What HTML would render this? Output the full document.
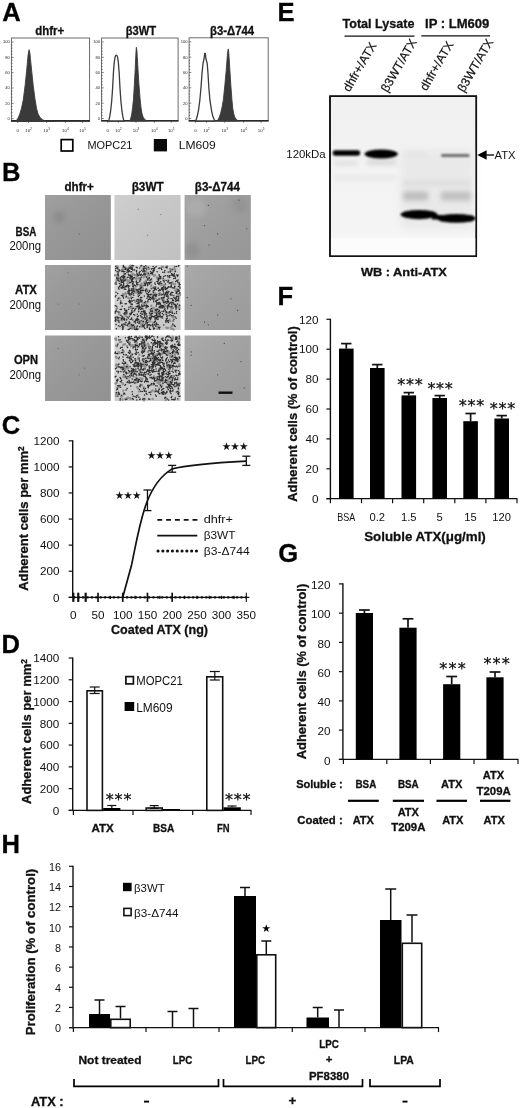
<!DOCTYPE html>
<html lang="en"><head><meta charset="utf-8"><title>Figure</title>
<style>
html,body{margin:0;padding:0;background:#fff}
svg{display:block;font-family:"Liberation Sans", "DejaVu Sans", sans-serif}
</style></head><body>
<svg width="520" height="1108" viewBox="0 0 520 1108">
<defs>
<linearGradient id="shade" x1="0" y1="0" x2="1" y2="1"><stop offset="0" stop-color="#fff" stop-opacity="0.07"/><stop offset="1" stop-color="#000" stop-opacity="0.05"/></linearGradient>
<linearGradient id="gelbg" x1="0" y1="0" x2="0" y2="1"><stop offset="0" stop-color="#f1f1f1"/><stop offset="0.85" stop-color="#f4f4f4"/><stop offset="1" stop-color="#fafafa"/></linearGradient>
<filter id="blur1" x="-10%" y="-50%" width="120%" height="200%"><feGaussianBlur stdDeviation="0.9"/></filter>
<filter id="blur2" x="-20%" y="-50%" width="140%" height="200%"><feGaussianBlur stdDeviation="2.5"/></filter>
<filter id="soft" x="-2%" y="-2%" width="104%" height="104%"><feGaussianBlur stdDeviation="0.35"/></filter>
<filter id="blur4" x="-20%" y="-20%" width="140%" height="140%"><feGaussianBlur stdDeviation="4"/></filter>
</defs>
<rect width="520" height="1108" fill="#fff"/>
<g id="panelA">
<text x="2.2" y="21.2" font-size="25.6" font-weight="bold" stroke="#111" stroke-width="0.3" fill="#000">A</text>
<rect x="11.40" y="38.00" width="78.20" height="83.20" fill="#fff" stroke="#5a5a5a" stroke-width="0.9"/>
<line x1="11.4" y1="118.7" x2="13.600000000000001" y2="118.7" stroke="#333" stroke-width="0.6"/>
<line x1="11.4" y1="115.63" x2="12.5" y2="115.63" stroke="#333" stroke-width="0.6"/>
<line x1="11.4" y1="112.56" x2="12.5" y2="112.56" stroke="#333" stroke-width="0.6"/>
<line x1="11.4" y1="109.5" x2="12.5" y2="109.5" stroke="#333" stroke-width="0.6"/>
<line x1="11.4" y1="106.43" x2="12.5" y2="106.43" stroke="#333" stroke-width="0.6"/>
<line x1="11.4" y1="103.36" x2="13.600000000000001" y2="103.36" stroke="#333" stroke-width="0.6"/>
<line x1="11.4" y1="100.29" x2="12.5" y2="100.29" stroke="#333" stroke-width="0.6"/>
<line x1="11.4" y1="97.22" x2="12.5" y2="97.22" stroke="#333" stroke-width="0.6"/>
<line x1="11.4" y1="94.16" x2="12.5" y2="94.16" stroke="#333" stroke-width="0.6"/>
<line x1="11.4" y1="91.09" x2="12.5" y2="91.09" stroke="#333" stroke-width="0.6"/>
<line x1="11.4" y1="88.02" x2="13.600000000000001" y2="88.02" stroke="#333" stroke-width="0.6"/>
<line x1="11.4" y1="84.95" x2="12.5" y2="84.95" stroke="#333" stroke-width="0.6"/>
<line x1="11.4" y1="81.88" x2="12.5" y2="81.88" stroke="#333" stroke-width="0.6"/>
<line x1="11.4" y1="78.82" x2="12.5" y2="78.82" stroke="#333" stroke-width="0.6"/>
<line x1="11.4" y1="75.75" x2="12.5" y2="75.75" stroke="#333" stroke-width="0.6"/>
<line x1="11.4" y1="72.68" x2="13.600000000000001" y2="72.68" stroke="#333" stroke-width="0.6"/>
<line x1="11.4" y1="69.61" x2="12.5" y2="69.61" stroke="#333" stroke-width="0.6"/>
<line x1="11.4" y1="66.54" x2="12.5" y2="66.54" stroke="#333" stroke-width="0.6"/>
<line x1="11.4" y1="63.48" x2="12.5" y2="63.48" stroke="#333" stroke-width="0.6"/>
<line x1="11.4" y1="60.41" x2="12.5" y2="60.41" stroke="#333" stroke-width="0.6"/>
<line x1="11.4" y1="57.34" x2="13.600000000000001" y2="57.34" stroke="#333" stroke-width="0.6"/>
<line x1="11.4" y1="54.27" x2="12.5" y2="54.27" stroke="#333" stroke-width="0.6"/>
<line x1="11.4" y1="51.2" x2="12.5" y2="51.2" stroke="#333" stroke-width="0.6"/>
<line x1="11.4" y1="48.14" x2="12.5" y2="48.14" stroke="#333" stroke-width="0.6"/>
<line x1="11.4" y1="45.07" x2="12.5" y2="45.07" stroke="#333" stroke-width="0.6"/>
<line x1="11.4" y1="42.0" x2="13.600000000000001" y2="42.0" stroke="#333" stroke-width="0.6"/>
<text x="9.8" y="120.1" font-size="4.1" text-anchor="end" fill="#2a2a2a">0</text>
<text x="9.8" y="104.8" font-size="4.1" text-anchor="end" fill="#2a2a2a">20</text>
<text x="9.8" y="89.4" font-size="4.1" text-anchor="end" fill="#2a2a2a">40</text>
<text x="9.8" y="74.1" font-size="4.1" text-anchor="end" fill="#2a2a2a">60</text>
<text x="9.8" y="58.7" font-size="4.1" text-anchor="end" fill="#2a2a2a">80</text>
<text x="9.8" y="43.4" font-size="4.1" text-anchor="end" fill="#2a2a2a">100</text>
<text x="17.7" y="132" font-size="4.4" text-anchor="middle" fill="#2a2a2a">0</text>
<line x1="17.7" y1="121.2" x2="17.7" y2="123.0" stroke="#333" stroke-width="0.6"/>
<text x="28.6" y="132" font-size="4.4" text-anchor="middle" fill="#2a2a2a">10<tspan dy="-1.9" font-size="3">2</tspan></text>
<line x1="28.6" y1="121.2" x2="28.6" y2="123.0" stroke="#333" stroke-width="0.6"/>
<text x="46.6" y="132" font-size="4.4" text-anchor="middle" fill="#2a2a2a">10<tspan dy="-1.9" font-size="3">3</tspan></text>
<line x1="46.6" y1="121.2" x2="46.6" y2="123.0" stroke="#333" stroke-width="0.6"/>
<text x="65.4" y="132" font-size="4.4" text-anchor="middle" fill="#2a2a2a">10<tspan dy="-1.9" font-size="3">4</tspan></text>
<line x1="65.4" y1="121.2" x2="65.4" y2="123.0" stroke="#333" stroke-width="0.6"/>
<text x="82.6" y="132" font-size="4.4" text-anchor="middle" fill="#2a2a2a">10<tspan dy="-1.9" font-size="3">5</tspan></text>
<line x1="82.6" y1="121.2" x2="82.6" y2="123.0" stroke="#333" stroke-width="0.6"/>
<line x1="11.0" y1="120.9" x2="90.0" y2="120.9" stroke="#2a2a2a" stroke-width="1.6"/>
<rect x="101.60" y="38.00" width="76.50" height="83.00" fill="#fff" stroke="#5a5a5a" stroke-width="0.9"/>
<line x1="101.6" y1="118.5" x2="103.8" y2="118.5" stroke="#333" stroke-width="0.6"/>
<line x1="101.6" y1="115.44" x2="102.69999999999999" y2="115.44" stroke="#333" stroke-width="0.6"/>
<line x1="101.6" y1="112.38" x2="102.69999999999999" y2="112.38" stroke="#333" stroke-width="0.6"/>
<line x1="101.6" y1="109.32" x2="102.69999999999999" y2="109.32" stroke="#333" stroke-width="0.6"/>
<line x1="101.6" y1="106.26" x2="102.69999999999999" y2="106.26" stroke="#333" stroke-width="0.6"/>
<line x1="101.6" y1="103.2" x2="103.8" y2="103.2" stroke="#333" stroke-width="0.6"/>
<line x1="101.6" y1="100.14" x2="102.69999999999999" y2="100.14" stroke="#333" stroke-width="0.6"/>
<line x1="101.6" y1="97.08" x2="102.69999999999999" y2="97.08" stroke="#333" stroke-width="0.6"/>
<line x1="101.6" y1="94.02" x2="102.69999999999999" y2="94.02" stroke="#333" stroke-width="0.6"/>
<line x1="101.6" y1="90.96" x2="102.69999999999999" y2="90.96" stroke="#333" stroke-width="0.6"/>
<line x1="101.6" y1="87.9" x2="103.8" y2="87.9" stroke="#333" stroke-width="0.6"/>
<line x1="101.6" y1="84.84" x2="102.69999999999999" y2="84.84" stroke="#333" stroke-width="0.6"/>
<line x1="101.6" y1="81.78" x2="102.69999999999999" y2="81.78" stroke="#333" stroke-width="0.6"/>
<line x1="101.6" y1="78.72" x2="102.69999999999999" y2="78.72" stroke="#333" stroke-width="0.6"/>
<line x1="101.6" y1="75.66" x2="102.69999999999999" y2="75.66" stroke="#333" stroke-width="0.6"/>
<line x1="101.6" y1="72.6" x2="103.8" y2="72.6" stroke="#333" stroke-width="0.6"/>
<line x1="101.6" y1="69.54" x2="102.69999999999999" y2="69.54" stroke="#333" stroke-width="0.6"/>
<line x1="101.6" y1="66.48" x2="102.69999999999999" y2="66.48" stroke="#333" stroke-width="0.6"/>
<line x1="101.6" y1="63.42" x2="102.69999999999999" y2="63.42" stroke="#333" stroke-width="0.6"/>
<line x1="101.6" y1="60.36" x2="102.69999999999999" y2="60.36" stroke="#333" stroke-width="0.6"/>
<line x1="101.6" y1="57.3" x2="103.8" y2="57.3" stroke="#333" stroke-width="0.6"/>
<line x1="101.6" y1="54.24" x2="102.69999999999999" y2="54.24" stroke="#333" stroke-width="0.6"/>
<line x1="101.6" y1="51.18" x2="102.69999999999999" y2="51.18" stroke="#333" stroke-width="0.6"/>
<line x1="101.6" y1="48.12" x2="102.69999999999999" y2="48.12" stroke="#333" stroke-width="0.6"/>
<line x1="101.6" y1="45.06" x2="102.69999999999999" y2="45.06" stroke="#333" stroke-width="0.6"/>
<line x1="101.6" y1="42.0" x2="103.8" y2="42.0" stroke="#333" stroke-width="0.6"/>
<text x="100.0" y="119.9" font-size="4.1" text-anchor="end" fill="#2a2a2a">0</text>
<text x="100.0" y="104.6" font-size="4.1" text-anchor="end" fill="#2a2a2a">20</text>
<text x="100.0" y="89.3" font-size="4.1" text-anchor="end" fill="#2a2a2a">40</text>
<text x="100.0" y="74.0" font-size="4.1" text-anchor="end" fill="#2a2a2a">60</text>
<text x="100.0" y="58.7" font-size="4.1" text-anchor="end" fill="#2a2a2a">80</text>
<text x="100.0" y="43.4" font-size="4.1" text-anchor="end" fill="#2a2a2a">100</text>
<text x="107.7" y="132" font-size="4.4" text-anchor="middle" fill="#2a2a2a">0</text>
<line x1="107.7" y1="121" x2="107.7" y2="122.8" stroke="#333" stroke-width="0.6"/>
<text x="118.4" y="132" font-size="4.4" text-anchor="middle" fill="#2a2a2a">10<tspan dy="-1.9" font-size="3">2</tspan></text>
<line x1="118.4" y1="121" x2="118.4" y2="122.8" stroke="#333" stroke-width="0.6"/>
<text x="136.0" y="132" font-size="4.4" text-anchor="middle" fill="#2a2a2a">10<tspan dy="-1.9" font-size="3">3</tspan></text>
<line x1="136.0" y1="121" x2="136.0" y2="122.8" stroke="#333" stroke-width="0.6"/>
<text x="154.4" y="132" font-size="4.4" text-anchor="middle" fill="#2a2a2a">10<tspan dy="-1.9" font-size="3">4</tspan></text>
<line x1="154.4" y1="121" x2="154.4" y2="122.8" stroke="#333" stroke-width="0.6"/>
<text x="171.2" y="132" font-size="4.4" text-anchor="middle" fill="#2a2a2a">10<tspan dy="-1.9" font-size="3">5</tspan></text>
<line x1="171.2" y1="121" x2="171.2" y2="122.8" stroke="#333" stroke-width="0.6"/>
<line x1="101.19999999999999" y1="120.7" x2="178.5" y2="120.7" stroke="#2a2a2a" stroke-width="1.6"/>
<rect x="189.10" y="37.80" width="79.10" height="83.20" fill="#fff" stroke="#5a5a5a" stroke-width="0.9"/>
<line x1="189.1" y1="118.5" x2="191.29999999999998" y2="118.5" stroke="#333" stroke-width="0.6"/>
<line x1="189.1" y1="115.43" x2="190.2" y2="115.43" stroke="#333" stroke-width="0.6"/>
<line x1="189.1" y1="112.36" x2="190.2" y2="112.36" stroke="#333" stroke-width="0.6"/>
<line x1="189.1" y1="109.3" x2="190.2" y2="109.3" stroke="#333" stroke-width="0.6"/>
<line x1="189.1" y1="106.23" x2="190.2" y2="106.23" stroke="#333" stroke-width="0.6"/>
<line x1="189.1" y1="103.16" x2="191.29999999999998" y2="103.16" stroke="#333" stroke-width="0.6"/>
<line x1="189.1" y1="100.09" x2="190.2" y2="100.09" stroke="#333" stroke-width="0.6"/>
<line x1="189.1" y1="97.02" x2="190.2" y2="97.02" stroke="#333" stroke-width="0.6"/>
<line x1="189.1" y1="93.96" x2="190.2" y2="93.96" stroke="#333" stroke-width="0.6"/>
<line x1="189.1" y1="90.89" x2="190.2" y2="90.89" stroke="#333" stroke-width="0.6"/>
<line x1="189.1" y1="87.82" x2="191.29999999999998" y2="87.82" stroke="#333" stroke-width="0.6"/>
<line x1="189.1" y1="84.75" x2="190.2" y2="84.75" stroke="#333" stroke-width="0.6"/>
<line x1="189.1" y1="81.68" x2="190.2" y2="81.68" stroke="#333" stroke-width="0.6"/>
<line x1="189.1" y1="78.62" x2="190.2" y2="78.62" stroke="#333" stroke-width="0.6"/>
<line x1="189.1" y1="75.55" x2="190.2" y2="75.55" stroke="#333" stroke-width="0.6"/>
<line x1="189.1" y1="72.48" x2="191.29999999999998" y2="72.48" stroke="#333" stroke-width="0.6"/>
<line x1="189.1" y1="69.41" x2="190.2" y2="69.41" stroke="#333" stroke-width="0.6"/>
<line x1="189.1" y1="66.34" x2="190.2" y2="66.34" stroke="#333" stroke-width="0.6"/>
<line x1="189.1" y1="63.28" x2="190.2" y2="63.28" stroke="#333" stroke-width="0.6"/>
<line x1="189.1" y1="60.21" x2="190.2" y2="60.21" stroke="#333" stroke-width="0.6"/>
<line x1="189.1" y1="57.14" x2="191.29999999999998" y2="57.14" stroke="#333" stroke-width="0.6"/>
<line x1="189.1" y1="54.07" x2="190.2" y2="54.07" stroke="#333" stroke-width="0.6"/>
<line x1="189.1" y1="51.0" x2="190.2" y2="51.0" stroke="#333" stroke-width="0.6"/>
<line x1="189.1" y1="47.94" x2="190.2" y2="47.94" stroke="#333" stroke-width="0.6"/>
<line x1="189.1" y1="44.87" x2="190.2" y2="44.87" stroke="#333" stroke-width="0.6"/>
<line x1="189.1" y1="41.8" x2="191.29999999999998" y2="41.8" stroke="#333" stroke-width="0.6"/>
<text x="187.5" y="119.9" font-size="4.1" text-anchor="end" fill="#2a2a2a">0</text>
<text x="187.5" y="104.6" font-size="4.1" text-anchor="end" fill="#2a2a2a">20</text>
<text x="187.5" y="89.2" font-size="4.1" text-anchor="end" fill="#2a2a2a">40</text>
<text x="187.5" y="73.9" font-size="4.1" text-anchor="end" fill="#2a2a2a">60</text>
<text x="187.5" y="58.5" font-size="4.1" text-anchor="end" fill="#2a2a2a">80</text>
<text x="187.5" y="43.2" font-size="4.1" text-anchor="end" fill="#2a2a2a">100</text>
<text x="195.4" y="132" font-size="4.4" text-anchor="middle" fill="#2a2a2a">0</text>
<line x1="195.4" y1="121" x2="195.4" y2="122.8" stroke="#333" stroke-width="0.6"/>
<text x="206.5" y="132" font-size="4.4" text-anchor="middle" fill="#2a2a2a">10<tspan dy="-1.9" font-size="3">2</tspan></text>
<line x1="206.5" y1="121" x2="206.5" y2="122.8" stroke="#333" stroke-width="0.6"/>
<text x="224.7" y="132" font-size="4.4" text-anchor="middle" fill="#2a2a2a">10<tspan dy="-1.9" font-size="3">3</tspan></text>
<line x1="224.7" y1="121" x2="224.7" y2="122.8" stroke="#333" stroke-width="0.6"/>
<text x="243.7" y="132" font-size="4.4" text-anchor="middle" fill="#2a2a2a">10<tspan dy="-1.9" font-size="3">4</tspan></text>
<line x1="243.7" y1="121" x2="243.7" y2="122.8" stroke="#333" stroke-width="0.6"/>
<text x="261.1" y="132" font-size="4.4" text-anchor="middle" fill="#2a2a2a">10<tspan dy="-1.9" font-size="3">5</tspan></text>
<line x1="261.1" y1="121" x2="261.1" y2="122.8" stroke="#333" stroke-width="0.6"/>
<line x1="188.7" y1="120.7" x2="268.59999999999997" y2="120.7" stroke="#2a2a2a" stroke-width="1.6"/>
<path d="M15.5 121.4 L15.5 121.2 L16.9 119.8 L18.3 117.6 L19.8 114.1 L21.5 108.3 L23.3 99.8 L25.1 85.5 L26.6 71.2 L27.8 58.3 L28.2 54.0 L29.1 49.7 L29.1 49.7 L30.0 54.0 L30.4 58.3 L31.7 71.2 L33.2 85.5 L35.1 99.8 L36.5 108.3 L38.1 114.1 L40.1 117.6 L42.6 119.8 L46.1 121.2 L56.1 121.4 Z" fill="#3a3a3a" stroke="#3a3a3a" stroke-width="0.9" stroke-linejoin="round"/>
<path d="M108.4 121.0 L109.0 119.7 L109.8 116.4 L110.6 111.2 L111.7 101.3 L112.6 88.2 L113.5 71.8 L114.3 62.0 L115.0 57.4 L115.7 55.4 L116.9 55.4 L117.6 57.4 L118.3 62.0 L119.1 71.8 L120.0 88.2 L120.9 101.3 L122.0 111.2 L122.8 116.4 L123.6 119.7 L124.2 121.0 Z" fill="#fff" stroke="#3a3a3a" stroke-width="1.3" stroke-linejoin="round"/>
<path d="M129.6 121.0 L130.3 119.5 L131.0 117.3 L131.8 113.6 L132.6 107.7 L133.5 98.9 L134.4 84.2 L135.2 69.4 L135.8 56.1 L136.0 51.7 L136.4 47.3 L136.4 47.3 L137.0 51.7 L137.2 56.1 L138.0 69.4 L138.9 84.2 L140.1 98.9 L141.0 107.7 L142.0 113.6 L143.2 117.3 L144.8 119.5 L146.9 121.0 Z" fill="#3a3a3a" stroke="#3a3a3a" stroke-width="0.9" stroke-linejoin="round"/>
<path d="M195.5 121.0 L196.2 119.6 L197.2 116.3 L198.4 110.8 L199.8 100.7 L201.0 87.2 L202.0 73.6 L203.0 63.5 L204.1 58.7 L204.7 53.3 L205.3 53.3 L205.9 58.7 L207.2 63.5 L208.0 73.6 L208.8 87.2 L210.0 100.7 L211.6 110.8 L212.8 116.3 L214.2 119.6 L215.2 121.0 Z" fill="#fff" stroke="#3a3a3a" stroke-width="1.3" stroke-linejoin="round"/>
<path d="M216.9 121.0 L218.1 119.6 L219.2 117.4 L220.5 113.8 L221.9 108.0 L223.4 99.4 L224.9 84.9 L226.2 70.5 L227.2 57.6 L227.5 53.2 L228.3 48.9 L228.3 48.9 L228.8 53.2 L229.1 57.6 L229.9 70.5 L230.8 84.9 L231.9 99.4 L232.7 108.0 L233.7 113.8 L234.9 117.4 L236.4 119.6 L238.5 121.0 Z" fill="#3a3a3a" stroke="#3a3a3a" stroke-width="0.9" stroke-linejoin="round"/>
<text x="35.2" y="34.5" font-size="12.6" font-weight="bold" stroke="#111" stroke-width="0.3" textLength="29" lengthAdjust="spacingAndGlyphs" fill="#111">dhfr+</text>
<text x="125.8" y="34.5" font-size="12.6" font-weight="bold" stroke="#111" stroke-width="0.3" textLength="30.4" lengthAdjust="spacingAndGlyphs" fill="#111">β3WT</text>
<text x="210" y="34.5" font-size="12.6" font-weight="bold" stroke="#111" stroke-width="0.3" textLength="44.2" lengthAdjust="spacingAndGlyphs" fill="#111">β3-Δ744</text>
<rect x="61.20" y="139.60" width="11.60" height="11.40" fill="#fff" stroke="#000" stroke-width="1.7"/>
<text x="87.4" y="149" font-size="11.6" textLength="45" lengthAdjust="spacingAndGlyphs" fill="#111">MOPC21</text>
<rect x="153.80" y="139.00" width="13.20" height="12.40" fill="#0a0a0a"/>
<text x="178.8" y="149" font-size="11.6" textLength="37" lengthAdjust="spacingAndGlyphs" fill="#111">LM609</text>
</g>
<g id="panelB">
<text x="1.9" y="180.8" font-size="25.6" font-weight="bold" stroke="#111" stroke-width="0.3" fill="#000">B</text>
<text x="64.5" y="191" font-size="12.4" font-weight="bold" stroke="#111" stroke-width="0.3" textLength="29.3" lengthAdjust="spacingAndGlyphs" fill="#111">dhfr+</text>
<text x="131.7" y="191" font-size="12.4" font-weight="bold" stroke="#111" stroke-width="0.3" textLength="32" lengthAdjust="spacingAndGlyphs" fill="#111">β3WT</text>
<text x="194.8" y="191" font-size="12.4" font-weight="bold" stroke="#111" stroke-width="0.3" textLength="45.2" lengthAdjust="spacingAndGlyphs" fill="#111">β3-Δ744</text>
<text x="26" y="235.5" font-size="12.6" font-weight="bold" stroke="#111" stroke-width="0.3" text-anchor="middle" textLength="20.8" lengthAdjust="spacingAndGlyphs" fill="#111">BSA</text>
<text x="25.3" y="249.9" font-size="12.4" text-anchor="middle" textLength="31.7" lengthAdjust="spacingAndGlyphs" fill="#111">200ng</text>
<text x="26" y="294.3" font-size="12.6" font-weight="bold" stroke="#111" stroke-width="0.3" text-anchor="middle" textLength="22" lengthAdjust="spacingAndGlyphs" fill="#111">ATX</text>
<text x="25.3" y="308.7" font-size="12.4" text-anchor="middle" textLength="31.7" lengthAdjust="spacingAndGlyphs" fill="#111">200ng</text>
<text x="26" y="364.3" font-size="12.6" font-weight="bold" stroke="#111" stroke-width="0.3" text-anchor="middle" textLength="24.2" lengthAdjust="spacingAndGlyphs" fill="#111">OPN</text>
<text x="25.3" y="378.7" font-size="12.4" text-anchor="middle" textLength="31.7" lengthAdjust="spacingAndGlyphs" fill="#111">200ng</text>
<rect x="45.00" y="195.00" width="65.80" height="65.00" fill="#989898"/>
<rect x="45.00" y="195.00" width="65.80" height="65.00" fill="url(#shade)"/>
<rect x="114.50" y="195.00" width="66.10" height="65.00" fill="#cbcbcb"/>
<rect x="114.50" y="195.00" width="66.10" height="65.00" fill="url(#shade)"/>
<rect x="184.60" y="195.00" width="66.20" height="65.00" fill="#9f9f9f"/>
<rect x="184.60" y="195.00" width="66.20" height="65.00" fill="url(#shade)"/>
<rect x="45.00" y="265.00" width="65.80" height="65.00" fill="#999999"/>
<rect x="45.00" y="265.00" width="65.80" height="65.00" fill="url(#shade)"/>
<rect x="114.50" y="265.00" width="66.10" height="65.00" fill="#d2d2d2"/>
<rect x="114.50" y="265.00" width="66.10" height="65.00" fill="url(#shade)"/>
<rect x="184.60" y="265.00" width="66.20" height="65.00" fill="#a3a3a3"/>
<rect x="184.60" y="265.00" width="66.20" height="65.00" fill="url(#shade)"/>
<rect x="45.00" y="335.50" width="65.80" height="65.50" fill="#999999"/>
<rect x="45.00" y="335.50" width="65.80" height="65.50" fill="url(#shade)"/>
<rect x="114.50" y="335.50" width="66.10" height="65.50" fill="#d2d2d2"/>
<rect x="114.50" y="335.50" width="66.10" height="65.50" fill="url(#shade)"/>
<rect x="184.60" y="335.50" width="66.20" height="65.50" fill="#a4a4a4"/>
<rect x="184.60" y="335.50" width="66.20" height="65.50" fill="url(#shade)"/>
<clipPath id="cpB"><rect x="45" y="195" width="65.8" height="65"/><rect x="184.6" y="195" width="66.2" height="65"/></clipPath>
<g clip-path="url(#cpB)"><g filter="url(#blur2)" opacity="0.5">
<ellipse cx="59" cy="217" rx="6" ry="6" fill="#808080"/>
<ellipse cx="196" cy="208" rx="10" ry="10" fill="#b4b4b4"/>
<ellipse cx="192" cy="250" rx="7" ry="8" fill="#858585"/>
<ellipse cx="240" cy="205" rx="8" ry="8" fill="#8c8c8c"/>
</g></g>
<path d="M79.2 234.0h0" stroke="#666" stroke-width="1.3" stroke-linecap="round" fill="none"/>
<path d="M147.6 235.3h0M160.8 214.5h0M138.3 209.3h0" stroke="#888" stroke-width="1.4" stroke-linecap="round" fill="none"/>
<path d="M208.4 205.4h0M238.9 200.2h0M246.8 228.8h0M217.7 234.0h0M209.1 245.1h0M204.5 225.6h0" stroke="#4a4a4a" stroke-width="1.3" stroke-linecap="round" fill="none"/>
<path d="M79.2 304.0h0M68.0 272.8h0M58.2 304.0h0" stroke="#6a6a6a" stroke-width="1.2" stroke-linecap="round" fill="none"/>
<path d="M187.2 297.5h0M191.2 305.3h0M217.7 315.1h0M230.9 298.8h0M237.6 310.5h0M204.5 322.2h0M208.4 324.8h0M187.2 266.3h0" stroke="#4a4a4a" stroke-width="1.3" stroke-linecap="round" fill="none"/>
<path d="M79.2 374.8h0M84.5 368.2h0M58.2 348.6h0" stroke="#6a6a6a" stroke-width="1.2" stroke-linecap="round" fill="none"/>
<path d="M191.2 351.9h0M191.2 355.1h0M217.7 374.8h0M224.3 343.4h0M240.9 361.7h0M244.2 387.9h0" stroke="#4a4a4a" stroke-width="1.3" stroke-linecap="round" fill="none"/>
<g filter="url(#soft)">
<path d="M136.1 275.2h0M134.9 274.9h0M118.9 298.0h0M119.8 298.4h0M142.7 318.4h0M141.4 317.1h0M118.1 320.4h0M119.0 321.2h0M168.1 277.1h0M139.3 300.5h0M139.7 302.0h0M142.9 285.6h0M142.3 287.2h0M149.2 321.4h0M150.3 321.3h0M142.2 313.9h0M143.7 314.3h0M164.7 302.2h0M164.2 300.8h0M152.7 294.7h0M145.9 308.0h0M133.6 290.2h0M132.5 290.5h0M122.7 269.4h0M122.7 270.7h0M171.7 270.7h0M172.9 269.6h0M171.2 283.4h0M172.5 282.2h0M124.9 276.8h0M123.4 277.0h0M132.2 265.9h0M130.5 265.6h0M159.9 298.5h0M171.9 316.5h0M173.1 317.4h0M119.1 269.9h0M118.6 270.8h0M115.1 275.3h0M116.8 275.5h0M155.0 275.1h0M154.2 275.9h0M146.5 271.1h0M146.3 272.7h0M149.4 275.0h0M147.6 274.6h0M171.1 310.0h0M171.9 311.4h0M149.7 315.3h0M150.3 313.6h0M163.1 280.1h0M164.1 280.3h0M133.2 282.1h0M177.1 288.9h0M177.5 290.0h0M146.2 307.3h0M145.3 305.8h0M165.9 313.5h0M166.2 312.2h0M141.2 326.0h0M141.9 326.8h0M173.8 317.1h0M178.7 307.5h0M179.4 308.3h0M178.1 307.0h0M143.3 321.2h0M143.2 322.5h0M130.7 303.0h0M131.9 304.3h0M138.1 294.8h0M142.4 324.2h0M141.4 324.0h0M143.7 277.3h0M151.2 286.4h0M151.4 285.3h0M151.5 281.5h0M148.1 301.4h0M143.9 304.7h0M143.4 303.4h0M149.7 296.1h0M172.0 325.7h0M173.6 325.1h0M124.0 273.4h0M124.1 274.4h0M129.4 326.4h0M131.0 326.3h0M125.6 293.1h0M126.0 294.3h0M162.0 266.8h0M163.2 267.0h0M155.6 298.3h0M166.3 327.6h0M167.8 328.0h0M132.7 273.9h0M168.3 282.1h0M152.1 310.3h0M151.6 309.0h0M119.4 320.6h0M117.8 320.1h0M132.5 273.8h0M133.4 274.6h0M118.4 278.5h0M118.4 277.2h0M147.6 277.0h0M147.6 278.0h0M162.7 300.8h0M163.7 300.3h0M168.2 293.2h0M140.6 297.9h0M137.3 318.7h0M141.4 287.8h0M142.8 288.5h0M131.7 276.0h0M171.6 308.4h0M171.2 309.7h0M125.3 294.0h0M178.2 300.5h0M135.2 288.4h0M133.8 288.6h0M128.1 297.8h0M129.3 298.5h0M117.8 267.0h0M116.6 266.3h0M163.8 307.6h0M140.4 286.4h0M140.1 284.9h0M155.8 312.4h0M154.4 312.2h0M153.0 322.6h0M130.0 267.6h0M131.3 268.6h0M151.3 305.7h0M163.7 297.7h0M119.4 312.6h0M119.2 314.2h0M147.2 290.0h0M164.9 305.0h0M165.6 305.9h0M163.3 285.0h0M164.5 285.5h0M158.7 309.8h0M157.3 309.6h0M145.4 273.2h0M147.1 272.9h0M177.9 294.3h0M179.0 293.9h0M152.8 274.6h0M123.7 317.9h0M146.7 267.2h0M145.5 267.6h0M124.2 287.5h0M173.6 284.1h0M175.1 284.1h0M138.5 292.9h0M139.8 293.9h0M133.6 325.3h0M132.5 325.2h0M167.8 305.9h0M150.7 311.5h0M144.4 313.6h0M146.0 314.1h0M123.4 295.7h0M123.2 293.9h0M132.0 307.5h0M131.1 308.2h0M125.6 278.9h0M125.9 280.6h0M179.8 294.3h0M180.0 295.0h0M121.0 280.9h0M122.2 279.8h0M141.9 292.0h0M141.3 292.9h0M133.1 327.3h0M131.9 326.1h0M129.1 282.9h0M127.5 283.5h0M170.2 321.3h0M169.7 319.6h0M145.8 303.1h0M147.3 302.3h0M170.6 327.6h0M171.4 328.8h0M157.1 314.4h0M158.7 314.8h0M130.2 324.3h0M131.0 325.2h0M156.4 310.2h0M154.9 309.9h0M140.3 279.9h0M139.9 281.2h0M145.9 280.6h0M160.8 285.2h0M160.2 284.0h0M129.8 267.8h0M129.3 266.7h0M166.8 312.8h0M168.1 312.5h0M168.3 280.3h0M134.2 326.3h0M134.5 327.6h0M158.3 326.1h0M158.7 327.9h0M124.3 268.9h0M125.7 267.9h0M136.5 277.4h0M117.2 308.0h0M116.6 309.0h0M115.3 283.5h0M123.1 327.1h0M123.8 325.6h0M143.2 268.7h0M144.2 268.2h0M138.7 322.8h0M139.3 321.3h0M117.7 267.8h0M137.1 283.0h0M132.1 311.3h0M133.7 311.4h0M116.7 280.5h0M177.0 290.3h0M175.3 290.3h0M136.4 286.0h0M120.2 278.2h0M121.2 278.6h0M172.4 328.6h0M173.6 329.4h0M161.2 294.1h0M160.0 293.1h0M123.0 319.2h0M121.9 320.4h0M128.0 281.4h0M129.1 280.4h0M136.3 290.9h0M136.5 292.5h0M157.5 328.8h0M158.2 327.3h0M174.4 268.2h0M175.1 269.8h0M152.9 324.9h0M144.2 282.2h0M129.2 289.1h0M129.2 290.6h0M157.4 278.6h0M156.9 277.5h0M135.4 278.6h0M136.4 279.0h0M140.8 300.7h0M141.6 302.0h0M141.7 283.7h0M135.4 301.7h0M136.6 300.4h0M138.7 278.2h0M140.4 278.2h0M142.6 317.9h0M145.0 276.0h0M143.9 274.6h0M147.8 274.9h0M148.8 274.4h0M146.9 316.9h0M148.2 318.2h0M178.4 296.4h0M140.3 323.3h0M125.5 315.7h0M126.4 314.4h0M127.0 279.5h0M126.2 280.3h0M117.6 319.1h0M116.1 318.6h0M135.0 292.4h0M134.2 291.3h0M143.5 267.1h0M143.7 268.7h0M165.7 294.8h0M166.6 295.5h0M143.0 271.5h0M144.5 271.8h0M148.3 269.1h0M149.4 268.7h0M125.4 322.8h0M128.6 282.4h0M129.7 282.6h0M138.4 321.3h0M139.2 320.6h0M179.5 305.8h0M132.3 328.8h0M132.4 327.4h0M126.6 313.0h0M153.1 307.9h0M154.2 308.2h0M155.1 293.2h0" stroke="#909090" stroke-width="2.4" stroke-linecap="round" fill="none"/>
<path d="M123.7 280.1h0M125.0 280.1h0M122.0 288.4h0M121.0 287.8h0M155.6 295.9h0M130.9 275.1h0M171.6 315.5h0M173.2 315.6h0M143.9 325.4h0M144.7 324.8h0M149.6 291.5h0M149.8 290.5h0M150.9 325.6h0M149.8 324.8h0M156.7 317.5h0M156.4 318.5h0M145.3 312.9h0M146.2 313.7h0M132.4 300.9h0M149.1 282.5h0M129.2 321.7h0M129.3 323.3h0M176.4 313.2h0M136.4 280.9h0M160.1 308.0h0M160.9 306.7h0M170.8 293.5h0M170.3 294.6h0M124.5 267.3h0M137.5 274.6h0M136.9 273.2h0M160.3 312.6h0M159.3 313.9h0M168.3 322.5h0M174.4 325.8h0M175.2 326.5h0M168.6 305.9h0M170.0 306.8h0M128.4 286.0h0M128.4 287.2h0M161.6 289.1h0M147.8 319.9h0M146.6 320.6h0M165.3 287.7h0M165.6 289.4h0M121.0 317.9h0M121.5 319.4h0M178.6 265.9h0M178.9 265.6h0M132.0 325.8h0M131.6 324.5h0M122.2 306.2h0M160.3 315.8h0M159.3 316.6h0M116.7 278.8h0M130.3 295.0h0M164.0 306.8h0M164.9 308.2h0M158.1 312.9h0M158.3 311.5h0M130.5 277.8h0M169.9 275.5h0M169.2 276.7h0M125.5 286.5h0M166.7 312.4h0M166.0 311.6h0M128.5 290.4h0M128.9 288.9h0M147.6 305.9h0M146.5 305.1h0M152.4 313.4h0M152.1 311.7h0M165.3 310.3h0M156.7 294.6h0M161.4 305.8h0M159.9 306.2h0M141.7 308.7h0M140.7 307.3h0M117.6 300.3h0M176.1 298.7h0M174.6 298.3h0M148.3 306.4h0M146.9 307.3h0M128.7 309.3h0M123.0 328.4h0M122.8 329.4h0M116.0 292.3h0M138.0 282.5h0M176.1 299.2h0M140.5 279.1h0M167.6 306.1h0M167.9 307.8h0M138.0 306.4h0M145.5 284.4h0M146.1 283.3h0M170.3 282.7h0M169.3 283.2h0M115.3 311.7h0M115.1 313.0h0M142.9 306.3h0M144.4 305.5h0M156.2 266.6h0M157.7 281.6h0M157.8 283.2h0M137.6 275.3h0M126.0 322.5h0M149.5 312.9h0M151.1 282.5h0M150.1 282.5h0M145.4 274.8h0M143.8 274.4h0M115.5 319.2h0M115.1 317.8h0M139.4 292.3h0M138.4 291.2h0M148.2 296.5h0M147.9 295.1h0M137.1 320.6h0M135.5 320.3h0M128.8 293.4h0M129.3 292.3h0M168.8 291.4h0M167.0 291.3h0M157.6 316.1h0M157.1 317.5h0M156.3 315.6h0M172.6 300.4h0M173.7 300.4h0M174.9 304.4h0M174.1 304.6h0M160.3 303.6h0M159.6 302.5h0M164.6 272.1h0M164.9 270.4h0M166.1 301.5h0M165.0 302.1h0M143.1 306.5h0M142.1 306.1h0M122.8 317.3h0M144.1 266.5h0M145.7 265.8h0M146.0 291.9h0M128.9 275.3h0M128.4 274.3h0M123.5 266.7h0M123.3 265.6h0M170.6 312.2h0M161.1 295.0h0M162.7 294.6h0M115.8 266.5h0M120.3 285.4h0M121.2 284.4h0M119.0 289.1h0M118.5 288.1h0M166.8 288.8h0M142.2 290.2h0M166.0 301.8h0M167.6 301.5h0M168.8 286.8h0M169.1 304.0h0M170.0 303.1h0M159.5 304.0h0M133.5 265.7h0M132.1 265.6h0M132.9 319.9h0M174.4 287.7h0M174.7 286.6h0M163.8 325.0h0M159.1 295.3h0M159.1 293.7h0M144.9 271.2h0M172.5 298.9h0M173.0 300.0h0M126.8 310.3h0M125.7 311.1h0M139.4 272.4h0M125.2 303.7h0M126.3 303.8h0M142.7 326.0h0M177.6 281.8h0M178.1 282.8h0M122.9 326.8h0M121.8 325.4h0M158.6 290.7h0M160.3 290.3h0M129.5 268.1h0M130.9 267.1h0M161.2 306.9h0M162.1 308.1h0M176.1 308.8h0M176.1 307.7h0M136.1 282.0h0M136.7 283.0h0M124.4 308.8h0M172.8 274.5h0M174.3 273.8h0M155.9 294.5h0M146.1 305.7h0M147.6 306.2h0M132.4 291.9h0M133.1 290.8h0M126.0 296.9h0M122.5 328.0h0M158.5 279.1h0M158.4 280.2h0M175.1 271.8h0M118.8 311.9h0M116.1 317.1h0M117.8 317.1h0M149.3 277.5h0M129.3 302.1h0M129.5 300.5h0M127.9 270.7h0M147.3 283.1h0M161.0 317.4h0M162.5 318.0h0M141.6 311.6h0M136.9 319.3h0M138.6 319.5h0M146.0 321.2h0M146.7 320.1h0M125.7 289.3h0M124.4 289.1h0M148.6 273.3h0M171.3 286.1h0M171.3 285.0h0M148.4 299.4h0M149.6 299.2h0M126.9 272.2h0M117.1 271.8h0M118.5 271.9h0M152.5 299.0h0M153.6 297.8h0M118.0 273.5h0M117.8 274.5h0M141.4 274.3h0M140.3 292.4h0M138.9 293.5h0M165.5 287.2h0M163.9 287.9h0M170.1 269.0h0M175.7 281.5h0M138.8 299.5h0M137.7 299.4h0M175.9 306.0h0M132.3 308.9h0M133.7 308.2h0M131.4 298.8h0M133.8 285.1h0M132.3 284.1h0M148.4 282.7h0M149.1 283.6h0M123.6 284.3h0M123.7 285.4h0M150.6 319.2h0M149.9 318.2h0M161.2 295.0h0M145.5 285.4h0M144.2 285.3h0M153.1 266.4h0M130.6 301.1h0M131.8 301.0h0M165.2 275.7h0M143.7 269.6h0M143.6 268.5h0M125.1 287.1h0M155.1 319.8h0M155.0 318.2h0M164.4 295.9h0M147.4 327.0h0M147.8 325.4h0M154.5 289.8h0M154.3 288.6h0M140.5 301.0h0M140.8 299.4h0M147.5 293.9h0M148.4 295.1h0M136.1 319.4h0M115.8 268.6h0M117.2 267.8h0M150.0 329.3h0M149.5 328.1h0M138.3 303.5h0M159.0 299.1h0M157.8 300.0h0M146.7 293.7h0M137.4 299.4h0M136.6 301.0h0M168.7 298.3h0M172.7 292.5h0M171.3 292.4h0M127.3 277.2h0M138.0 329.0h0M136.6 329.4h0M135.0 309.7h0M135.8 308.4h0M158.5 278.1h0M158.3 279.7h0M149.6 329.2h0M150.4 329.4h0M164.4 272.4h0M162.7 272.2h0M154.9 317.1h0M155.0 315.8h0M161.5 288.2h0M162.9 289.2h0M152.9 287.9h0M154.5 288.4h0M152.9 326.8h0M131.3 268.4h0M135.5 322.9h0M134.1 321.9h0M147.3 326.2h0M147.0 325.0h0M135.2 321.4h0M130.9 276.7h0M132.1 276.4h0M151.5 272.9h0M150.7 273.5h0M123.1 318.3h0M123.5 319.4h0M130.5 267.8h0M131.4 269.1h0M121.1 282.8h0M119.5 283.4h0M167.3 275.8h0M139.6 326.7h0M147.9 280.1h0M147.5 278.9h0M173.5 303.1h0M172.6 302.4h0M171.7 273.4h0M171.5 275.0h0M140.1 307.5h0M139.3 308.2h0M126.6 319.9h0M147.6 284.5h0M147.7 285.6h0M161.6 283.6h0M123.7 283.2h0M158.2 288.0h0M138.0 305.7h0M139.3 304.9h0M161.3 268.2h0M161.7 269.4h0M139.8 268.1h0M126.8 319.2h0M131.6 293.3h0M133.3 293.4h0M165.5 283.9h0M154.5 268.6h0M154.8 267.5h0M174.4 313.4h0M140.6 313.3h0M142.1 314.2h0M142.6 324.9h0M169.0 305.7h0M168.5 304.4h0M148.3 324.8h0M156.5 300.3h0M155.6 301.3h0M128.2 285.4h0M158.6 280.8h0M157.0 281.4h0M137.9 284.7h0M136.7 284.2h0M168.0 300.6h0M167.3 299.3h0M145.0 314.5h0M144.7 315.7h0M128.5 269.4h0M128.1 268.2h0M122.4 286.3h0M123.0 287.2h0M151.7 272.5h0M152.2 273.9h0M155.8 325.3h0M155.9 326.4h0M134.3 277.4h0M169.0 313.0h0M169.6 311.8h0M139.0 300.8h0M130.6 268.2h0M176.4 297.1h0M176.0 298.5h0M120.3 309.5h0M121.4 309.3h0M117.7 293.6h0M166.2 292.7h0M148.5 292.5h0M147.7 291.0h0M173.8 276.1h0M172.6 275.6h0M127.8 271.0h0M129.5 270.7h0M155.3 317.4h0M176.9 296.3h0M176.0 297.7h0M116.9 277.6h0M118.2 278.4h0M139.2 302.7h0M138.0 302.1h0M122.5 277.1h0M123.8 278.2h0M131.6 271.7h0M130.1 271.8h0M129.8 302.1h0M128.9 301.6h0M141.6 270.3h0M150.8 311.2h0M152.4 311.1h0M121.7 318.6h0M123.1 318.2h0M118.8 280.7h0M117.9 280.1h0M134.6 310.7h0M155.4 321.2h0M137.3 314.3h0M176.6 311.6h0M131.6 277.9h0M152.8 272.8h0M153.2 271.8h0M139.8 274.8h0M139.2 273.3h0M176.7 266.5h0M175.0 266.5h0M167.0 267.9h0M159.2 290.6h0M159.9 289.6h0M171.8 304.6h0M172.1 306.2h0M153.3 268.4h0M151.9 268.7h0M140.3 288.2h0M139.8 289.0h0M144.9 328.5h0M144.3 327.5h0M132.8 297.5h0M131.1 297.2h0M156.2 306.1h0M156.7 304.5h0M176.0 309.1h0M163.1 298.1h0M161.8 297.7h0M119.0 287.1h0M146.3 289.0h0M145.7 289.9h0M115.6 321.2h0M115.1 320.7h0M126.1 269.8h0M125.8 268.4h0M153.0 270.7h0M154.2 270.6h0M165.4 292.9h0M163.7 293.1h0M133.0 282.0h0M132.8 283.6h0M129.3 291.1h0M171.2 306.9h0M177.6 303.9h0M171.9 287.4h0M170.3 287.0h0M156.6 324.5h0M156.6 323.0h0M141.4 308.9h0M140.5 309.5h0M155.7 286.9h0M155.7 288.3h0M116.0 324.6h0M136.5 271.6h0M136.6 270.5h0M167.9 292.6h0M166.5 292.1h0M131.8 311.0h0M144.5 283.4h0M123.7 266.2h0M129.9 313.9h0M130.6 314.7h0M147.7 301.0h0M138.8 275.1h0M174.9 275.9h0M130.8 328.3h0M137.4 316.7h0M138.3 316.1h0M141.2 320.7h0M139.7 321.7h0M176.4 305.6h0M176.3 307.0h0M130.1 278.6h0M134.5 329.0h0M135.4 329.4h0M171.5 282.7h0M133.4 286.8h0M144.5 302.6h0M145.5 301.7h0M165.7 320.7h0M179.7 284.6h0M180.0 284.4h0M121.4 276.4h0M120.5 277.8h0M159.8 268.0h0M158.9 268.5h0M116.4 328.8h0M122.9 296.7h0M123.6 298.1h0M124.7 312.7h0M123.9 313.8h0M174.7 287.9h0M172.4 312.3h0M172.3 313.3h0M151.2 288.7h0M157.5 300.3h0M141.0 285.9h0M140.2 290.2h0M141.2 290.2h0M154.5 324.7h0M139.6 281.0h0M140.5 279.6h0M136.2 306.8h0M137.1 306.6h0M153.5 329.1h0M163.3 289.8h0M161.9 289.5h0M150.3 279.8h0M151.5 279.1h0M161.9 298.9h0M163.0 300.3h0M149.4 299.0h0M130.6 276.6h0M129.5 275.3h0M173.1 321.0h0M173.9 319.5h0M123.1 275.4h0M122.1 276.7h0M148.9 294.5h0M150.5 294.5h0M144.3 296.1h0M124.8 309.0h0M124.9 310.3h0M137.2 289.9h0M136.2 289.5h0M126.7 311.4h0M126.8 313.1h0M155.2 289.3h0M154.1 290.5h0M134.3 291.6h0M138.0 290.2h0M139.3 308.1h0M139.3 306.8h0M149.2 297.3h0M145.1 319.2h0M146.1 318.3h0M147.0 298.3h0M163.2 291.2h0M151.0 314.7h0M151.2 315.7h0M168.2 272.1h0M151.7 269.1h0M146.4 269.1h0M144.9 268.2h0M168.1 321.2h0M167.1 321.1h0M179.3 283.1h0M179.2 284.8h0M151.2 298.2h0M150.6 299.8h0M167.1 320.3h0M168.5 320.7h0M139.4 295.2h0M138.3 296.4h0M128.1 324.3h0M127.5 325.6h0M141.6 301.6h0M142.0 300.5h0M161.2 316.8h0M162.5 316.3h0M172.1 269.3h0M118.3 320.6h0M119.0 322.2h0M151.5 316.7h0M158.9 284.4h0M124.6 324.2h0M125.9 325.1h0M176.8 292.1h0M178.1 291.2h0M125.1 269.2h0M125.8 268.2h0M130.2 302.7h0M131.2 304.2h0M136.2 319.3h0M178.7 290.6h0M178.0 289.7h0M150.5 271.6h0M143.0 308.9h0M176.1 299.2h0M176.1 297.8h0M175.4 271.5h0M153.9 300.1h0M153.7 301.8h0M137.4 325.9h0M136.8 327.0h0M131.2 313.0h0M134.5 270.0h0M132.9 269.5h0M153.8 295.0h0M155.0 295.9h0M139.4 307.9h0M140.6 307.5h0M124.8 271.6h0M123.3 271.6h0M122.7 295.4h0M121.4 295.4h0M127.9 291.4h0M128.0 293.1h0M147.7 322.4h0M146.8 316.1h0M130.0 313.5h0M131.3 313.7h0M120.6 302.5h0M120.9 301.0h0M119.1 281.3h0M168.0 287.4h0M168.9 286.9h0M176.1 291.9h0M176.2 293.5h0M159.2 275.2h0M159.5 276.4h0M166.5 296.2h0M137.8 276.0h0M143.4 318.2h0M134.5 326.9h0M131.5 319.1h0M130.3 319.4h0M147.1 323.5h0M140.5 315.6h0M176.2 318.3h0M175.3 316.9h0M137.1 303.6h0M115.4 296.8h0M115.9 295.6h0M154.3 294.8h0M153.3 296.1h0M155.3 284.2h0M154.9 282.9h0M158.0 317.1h0M117.8 318.1h0M119.0 317.8h0M129.7 322.4h0M140.7 297.5h0M141.8 297.4h0M169.0 275.9h0M169.8 277.5h0M144.6 317.2h0M145.8 318.1h0M171.1 298.4h0M173.1 308.1h0M143.9 326.7h0M156.1 289.6h0M174.0 297.4h0M151.3 294.2h0M162.4 313.4h0M163.6 314.8h0M173.0 274.8h0M174.2 275.2h0M163.6 306.5h0M134.0 300.3h0M157.2 317.0h0M158.7 316.6h0M159.9 283.3h0M160.7 281.8h0M137.6 274.5h0M125.6 312.7h0M126.8 313.1h0M127.2 285.3h0M126.7 286.6h0M122.1 282.2h0M123.3 281.9h0M128.3 323.6h0M156.4 315.3h0M156.5 313.9h0M151.4 308.4h0M150.2 309.7h0M149.5 284.0h0M149.6 283.0h0M168.7 301.7h0M132.3 281.1h0M132.4 279.6h0M141.9 317.1h0M140.8 315.7h0M156.2 309.8h0M157.7 309.2h0M137.3 290.6h0M137.9 292.2h0M149.6 298.9h0M123.8 287.2h0M122.1 287.2h0M158.4 302.5h0M158.2 304.1h0M166.3 319.1h0M164.0 297.5h0M160.8 304.7h0M159.5 303.7h0M132.8 279.2h0M132.0 277.6h0M167.2 288.5h0M167.8 287.5h0M115.3 305.7h0M116.6 306.2h0M151.1 317.1h0M122.3 279.9h0M121.6 281.2h0M129.2 316.2h0M167.6 299.9h0M153.1 291.1h0M153.3 292.8h0M136.5 328.5h0M137.4 329.4h0M159.4 310.8h0M159.9 312.0h0M133.4 278.0h0M132.4 278.4h0M160.8 278.2h0M160.2 276.5h0M162.0 311.5h0M163.7 311.6h0M162.0 305.8h0M162.7 307.1h0M179.4 285.1h0M178.4 286.5h0M167.3 294.6h0M168.2 296.0h0M166.7 296.0h0M167.8 296.9h0M148.1 279.0h0M149.4 278.1h0M162.6 290.1h0M123.8 266.4h0M123.1 267.1h0M169.0 315.7h0M170.1 314.8h0M119.7 286.2h0M146.5 306.4h0M147.6 305.7h0M121.9 303.3h0M120.4 303.7h0M156.4 310.7h0M156.2 309.7h0M145.6 291.1h0M154.0 269.6h0M129.9 290.6h0M156.2 312.9h0M157.9 312.7h0M117.6 268.7h0M156.5 324.3h0M158.1 324.4h0M127.2 317.1h0M128.5 318.1h0M172.8 324.1h0M151.2 318.0h0M153.7 316.6h0M152.5 316.3h0M140.9 266.1h0M141.7 265.6h0M144.8 273.4h0M143.8 273.9h0M178.5 300.4h0M178.3 298.8h0M170.2 272.1h0M170.2 271.0h0M115.6 270.4h0M154.0 298.8h0M152.8 297.8h0M143.1 321.6h0M143.8 310.7h0M143.0 311.7h0M132.9 281.5h0M133.1 283.2h0M174.9 286.6h0M121.9 318.3h0M150.0 325.4h0M159.9 327.3h0M159.5 329.0h0M116.0 282.2h0M159.9 313.2h0M159.9 314.2h0M160.0 278.9h0M156.8 303.3h0M156.4 302.1h0M119.2 269.9h0M119.9 270.7h0M147.1 327.5h0M147.3 326.3h0M121.6 284.9h0M144.0 312.1h0M137.3 318.7h0M158.6 283.3h0M159.6 282.7h0M157.9 303.0h0M158.6 303.9h0M178.9 290.0h0M179.1 291.1h0M116.1 320.0h0M138.7 311.7h0M131.4 289.0h0M131.5 290.6h0M133.6 289.9h0M134.0 291.0h0M140.0 288.9h0M140.7 288.1h0M158.2 319.0h0M157.2 319.4h0M145.0 311.0h0M143.8 311.1h0M130.1 293.7h0M129.2 294.7h0M175.9 301.0h0M175.8 299.5h0M122.2 325.8h0M123.1 327.3h0M128.9 270.9h0M145.0 312.3h0M144.5 313.3h0M158.1 288.6h0M146.4 277.1h0M148.5 267.2h0M150.0 280.5h0M139.0 323.2h0M137.6 322.2h0M120.4 279.4h0M121.2 280.3h0M163.7 302.8h0M163.3 301.9h0M176.7 280.5h0M178.0 280.0h0M179.5 305.2h0M128.2 329.4h0M129.4 329.1h0M141.5 287.5h0M140.7 288.3h0M131.8 294.6h0M124.0 280.9h0M124.8 274.3h0M125.6 273.7h0M130.3 276.3h0M128.9 277.2h0M132.6 325.7h0M133.5 325.1h0M116.2 284.1h0M171.6 292.4h0M167.5 307.3h0M167.5 308.8h0M153.2 316.7h0M127.6 270.5h0M128.3 271.9h0M131.7 280.7h0M131.2 279.7h0M163.2 305.4h0M167.0 266.2h0M161.1 306.9h0M166.1 280.5h0M138.4 307.9h0M138.6 309.1h0M132.4 267.9h0M131.4 268.4h0M152.9 325.7h0M152.5 324.4h0M126.5 296.3h0M156.3 310.6h0M156.4 309.3h0M131.7 318.0h0M171.9 303.2h0M170.4 302.8h0M132.8 270.1h0M132.4 269.1h0M130.0 282.5h0M178.1 275.1h0M177.5 276.3h0M146.2 282.1h0M146.7 283.0h0M155.6 310.0h0M162.4 287.4h0M163.7 286.8h0M118.4 275.4h0M118.2 274.3h0M166.8 316.8h0M167.4 318.2h0M167.3 316.1h0M166.5 314.8h0M124.1 277.9h0M123.3 277.0h0M131.9 292.6h0M117.1 311.8h0M116.1 310.6h0M155.0 323.1h0M154.4 322.1h0M125.3 280.0h0M135.2 285.7h0M134.4 285.0h0M118.3 298.4h0M172.0 295.1h0M170.6 295.0h0M138.6 311.3h0M122.0 270.1h0M122.0 271.6h0M129.5 285.9h0M165.1 289.3h0M175.7 305.1h0M174.9 304.2h0M134.6 270.0h0M143.5 271.1h0M144.5 270.8h0M133.8 314.6h0M134.8 315.1h0M149.6 318.8h0M149.7 317.4h0M137.0 273.5h0M122.7 282.2h0M173.8 295.8h0M133.8 295.3h0M123.5 278.0h0M124.0 276.8h0M131.2 281.9h0M124.7 320.1h0M124.7 318.8h0M171.1 302.3h0M136.3 319.7h0M135.5 320.7h0M138.0 289.7h0M139.1 289.0h0M167.9 281.8h0M168.5 280.8h0M137.5 319.4h0M159.0 307.2h0M150.7 294.7h0M165.9 321.1h0M165.9 322.2h0M136.3 267.3h0M137.3 267.7h0M163.2 278.3h0M163.8 276.6h0M145.6 323.0h0M146.7 322.0h0M148.8 296.5h0M158.3 278.9h0M159.8 278.5h0M123.2 323.9h0M121.8 324.6h0M143.0 271.5h0M166.3 288.4h0M179.5 293.3h0M175.4 278.5h0M175.3 277.3h0M150.6 297.5h0M152.3 297.0h0M151.5 316.3h0M150.9 314.1h0M151.9 313.5h0M175.6 301.3h0M167.2 292.6h0M167.0 294.0h0M148.4 295.5h0M147.6 296.8h0M163.7 280.7h0M164.3 282.0h0M173.8 278.5h0M163.7 311.0h0M164.6 309.5h0M118.5 325.8h0M120.0 326.5h0M159.1 274.7h0M179.8 287.0h0M180.0 288.1h0M141.7 305.0h0M141.9 306.1h0M127.6 285.7h0M126.3 285.9h0M178.2 296.6h0M178.7 298.0h0M124.5 276.4h0M177.9 291.3h0M176.9 292.6h0M140.5 275.3h0M142.2 275.4h0M162.4 288.2h0M141.2 293.2h0M140.3 291.8h0M176.7 274.9h0M166.4 303.2h0M167.8 302.8h0M141.2 277.2h0M167.1 267.3h0M165.8 267.3h0M173.2 287.9h0M156.6 296.0h0M155.3 295.0h0M132.0 289.2h0M133.2 288.5h0M133.0 286.8h0M132.6 285.9h0M127.6 269.4h0M127.8 270.4h0M132.2 312.4h0M176.6 300.7h0M177.8 300.1h0M140.1 271.5h0M153.8 327.9h0M154.6 328.6h0M161.1 305.8h0M161.7 307.1h0M158.7 327.5h0M143.3 290.5h0M145.1 290.2h0M160.9 276.8h0M160.0 278.1h0M154.1 287.1h0M124.3 276.8h0M142.0 308.3h0M175.4 304.8h0M175.2 306.6h0M179.4 309.5h0M132.1 304.6h0M124.8 314.2h0M120.8 315.2h0M122.0 316.3h0M143.8 311.9h0M157.2 271.8h0M129.0 307.3h0M130.6 306.5h0M179.9 292.8h0M164.3 294.7h0M165.6 294.3h0" stroke="#2e2e2e" stroke-width="1.55" stroke-linecap="round" fill="none"/>
<path d="M122.8 384.3h0M163.2 344.5h0M163.2 346.2h0M117.3 366.8h0M173.1 338.3h0M172.8 336.8h0M137.4 396.1h0M137.8 395.1h0M127.2 368.3h0M128.4 367.7h0M166.1 352.2h0M167.3 351.4h0M178.1 385.7h0M178.9 384.6h0M159.4 384.0h0M160.1 382.4h0M175.0 346.4h0M174.1 347.1h0M124.0 366.3h0M123.0 367.4h0M164.5 374.0h0M140.1 371.3h0M140.4 372.4h0M133.5 376.6h0M159.6 359.4h0M138.5 375.0h0M130.9 398.7h0M129.8 398.3h0M148.0 343.7h0M159.1 382.0h0M157.5 382.8h0M135.4 372.7h0M136.6 371.8h0M168.6 336.9h0M169.1 336.1h0M175.6 353.3h0M174.8 354.9h0M141.4 380.9h0M132.6 345.6h0M155.6 378.1h0M150.9 359.2h0M151.6 360.1h0M125.5 368.4h0M124.3 369.2h0M116.1 339.8h0M116.1 338.6h0M168.6 351.6h0M167.6 352.5h0M164.8 350.4h0M144.5 368.4h0M126.8 340.6h0M128.1 341.4h0M142.6 355.9h0M131.0 346.0h0M132.3 345.2h0M142.9 346.8h0M143.8 345.5h0M125.3 376.3h0M124.7 377.2h0M163.3 382.2h0M162.6 381.0h0M158.0 342.0h0M158.2 343.3h0M128.0 341.7h0M136.8 353.2h0M135.6 354.1h0M143.1 346.1h0M144.8 346.0h0M121.6 368.4h0M120.9 367.2h0M167.6 354.9h0M145.8 345.2h0M145.2 343.8h0M152.6 398.9h0M167.1 343.4h0M165.7 342.6h0M137.7 380.8h0M171.2 377.0h0M161.6 343.5h0M115.3 338.8h0M151.8 348.7h0M151.1 349.8h0M148.2 373.9h0M146.8 373.9h0M142.3 378.8h0M142.0 380.4h0M160.8 386.3h0M162.0 385.7h0M139.4 354.8h0M168.2 367.1h0M167.0 367.5h0M135.0 359.2h0M157.6 379.6h0M132.8 340.0h0M134.2 339.7h0M130.0 357.8h0M162.9 367.5h0M161.4 367.6h0M143.6 363.2h0M127.0 346.2h0M170.4 357.4h0M142.8 348.5h0M144.1 349.6h0M143.6 361.7h0M144.9 361.8h0M139.7 336.8h0M136.7 379.8h0M138.2 380.0h0M154.8 355.0h0M174.1 351.1h0M173.7 352.0h0M136.2 377.5h0M137.1 378.3h0M135.3 362.9h0M122.6 399.5h0M130.9 373.9h0M131.4 372.3h0M179.2 339.6h0M178.0 338.5h0M169.8 371.4h0M143.7 399.9h0M143.9 400.4h0M121.2 341.9h0M119.9 341.9h0M160.7 369.3h0M159.3 369.2h0M139.2 391.5h0M138.3 357.7h0M138.1 358.7h0M177.1 359.9h0M149.6 357.2h0M137.1 362.9h0M136.2 363.6h0M158.1 378.8h0M158.3 380.5h0M162.7 337.9h0M159.4 379.5h0M159.8 380.6h0M157.0 380.7h0M123.9 375.5h0M123.4 376.8h0M123.8 367.2h0M123.2 368.6h0M152.2 350.4h0M151.9 384.5h0M153.5 384.2h0M157.5 342.9h0M159.1 342.2h0M162.4 353.3h0M163.0 352.1h0M116.1 393.3h0M159.8 370.4h0M160.8 369.6h0M116.8 357.7h0M116.0 357.0h0M125.5 354.9h0M143.7 387.3h0M167.7 383.2h0M169.0 382.5h0M154.8 391.5h0M127.9 397.6h0M169.0 352.0h0M169.2 353.2h0M177.0 359.8h0M178.6 360.0h0M163.5 392.4h0M162.5 393.7h0M157.8 362.2h0M159.0 361.5h0M148.0 386.7h0M138.0 388.3h0M137.1 387.3h0M139.6 373.3h0M141.2 373.3h0M154.1 376.4h0M159.1 388.5h0M176.9 348.3h0M175.8 348.2h0M127.4 366.6h0M125.8 366.6h0M116.2 395.9h0M116.3 394.4h0M150.0 350.1h0M149.8 348.9h0M152.3 377.8h0M153.7 378.4h0M160.0 346.0h0M118.4 352.1h0M119.6 352.8h0M131.3 355.4h0M131.7 353.9h0M122.5 350.5h0M123.7 351.4h0M165.7 400.1h0M165.8 398.8h0M175.5 361.3h0M176.9 360.9h0M143.7 364.2h0M146.0 347.6h0M141.6 378.6h0M140.5 378.1h0M151.3 391.7h0M152.6 390.5h0M169.8 366.3h0M169.4 364.8h0M128.4 377.4h0M116.5 364.5h0M116.0 365.4h0M158.6 354.5h0M157.0 354.1h0M122.6 383.1h0M116.7 382.7h0M115.6 383.5h0M142.0 344.0h0M143.3 343.7h0M143.4 350.8h0M142.3 349.4h0M140.6 384.7h0M141.9 385.0h0M171.8 349.2h0M133.0 345.9h0M134.6 345.3h0M130.5 372.2h0M128.9 372.8h0M134.8 373.8h0M135.7 373.3h0M134.7 382.1h0M135.6 383.1h0M116.1 345.8h0M117.1 346.4h0M148.7 344.9h0M148.7 346.1h0M121.4 396.8h0M122.1 396.0h0M161.9 354.0h0M160.8 354.4h0M153.1 355.3h0M130.0 343.5h0M129.7 342.2h0M176.3 352.6h0M167.6 372.0h0M127.7 365.8h0M127.1 364.9h0M146.0 377.9h0M146.6 379.5h0M140.5 363.4h0M163.2 377.9h0M162.0 377.8h0M179.5 366.0h0M179.4 364.5h0M135.4 359.8h0M169.9 379.1h0M168.9 378.7h0M136.9 342.7h0M170.2 355.6h0M171.5 355.7h0M139.8 336.9h0M141.5 336.9h0M129.9 352.4h0M129.6 350.9h0M147.8 351.9h0M123.2 390.6h0M167.6 380.8h0M125.1 370.8h0M125.7 372.3h0M151.9 357.1h0M152.9 357.8h0M144.0 365.8h0M145.2 366.7h0M167.6 352.1h0M123.4 344.8h0M125.1 344.3h0M126.4 398.6h0M125.4 398.9h0M146.3 362.6h0M147.2 361.3h0M153.2 351.4h0M152.0 352.3h0" stroke="#909090" stroke-width="2.4" stroke-linecap="round" fill="none"/>
<path d="M147.9 356.9h0M128.2 357.7h0M129.5 358.1h0M169.4 373.8h0M168.5 374.6h0M155.4 340.3h0M154.1 340.4h0M153.9 343.5h0M179.1 384.9h0M158.3 353.9h0M173.2 352.0h0M172.7 353.6h0M155.1 357.4h0M179.5 338.0h0M179.2 336.2h0M155.6 366.8h0M155.1 365.1h0M119.0 386.9h0M167.0 351.4h0M166.6 350.0h0M154.4 357.0h0M165.7 397.3h0M164.7 398.1h0M167.2 347.4h0M175.8 337.3h0M176.9 336.9h0M169.7 361.6h0M119.3 357.3h0M118.8 358.8h0M152.8 343.9h0M153.8 345.2h0M167.7 350.8h0M165.3 376.8h0M135.4 380.0h0M151.9 353.8h0M153.0 355.1h0M172.8 351.7h0M135.0 342.4h0M145.4 388.5h0M144.4 389.9h0M121.0 379.0h0M120.1 377.6h0M141.7 365.0h0M141.7 366.6h0M161.5 386.5h0M123.4 360.9h0M123.3 359.7h0M136.2 354.3h0M146.3 360.5h0M144.3 372.5h0M144.2 373.6h0M147.7 385.5h0M149.1 385.4h0M139.5 344.0h0M175.0 378.5h0M174.7 379.9h0M175.2 366.8h0M176.5 366.1h0M171.7 362.7h0M172.7 361.3h0M139.4 389.4h0M145.5 362.5h0M129.5 360.2h0M130.8 359.1h0M156.2 359.6h0M154.7 359.4h0M137.9 363.0h0M153.5 371.0h0M152.9 372.3h0M128.5 339.6h0M128.9 337.9h0M150.0 370.4h0M149.2 369.0h0M134.7 340.4h0M129.7 338.9h0M129.5 337.4h0M133.2 364.8h0M133.9 366.3h0M144.5 382.1h0M153.8 378.2h0M154.4 379.8h0M158.7 370.3h0M158.1 371.4h0M169.8 336.9h0M165.9 382.3h0M165.5 381.1h0M162.0 358.6h0M162.7 357.0h0M139.7 399.5h0M117.0 371.2h0M135.5 349.5h0M135.6 348.1h0M117.5 385.7h0M118.7 385.7h0M128.5 370.5h0M127.9 356.1h0M127.0 357.4h0M152.6 347.2h0M152.6 346.1h0M151.5 352.5h0M116.7 389.8h0M117.6 389.1h0M128.9 343.6h0M129.4 344.7h0M152.6 364.8h0M152.9 363.2h0M151.6 366.7h0M152.7 365.7h0M117.3 381.1h0M117.9 380.0h0M147.4 378.9h0M142.7 399.3h0M117.8 353.7h0M116.7 353.5h0M166.7 342.3h0M177.8 393.4h0M178.8 393.0h0M154.1 342.5h0M154.4 341.0h0M135.7 380.1h0M117.9 396.1h0M150.5 337.7h0M151.5 336.5h0M162.3 375.1h0M143.6 374.4h0M145.3 374.7h0M132.7 338.7h0M163.1 349.6h0M158.2 373.6h0M159.2 373.3h0M142.3 339.8h0M143.9 339.3h0M162.6 338.8h0M161.5 338.9h0M148.3 387.7h0M142.4 353.2h0M141.5 352.1h0M172.9 369.0h0M129.1 337.2h0M130.0 338.1h0M172.1 380.9h0M134.7 383.0h0M133.3 382.1h0M167.3 399.0h0M168.6 400.0h0M163.5 377.8h0M161.9 377.1h0M157.2 378.3h0M157.2 376.8h0M123.5 363.5h0M122.3 363.0h0M140.5 363.5h0M140.7 365.0h0M140.8 366.0h0M171.8 396.5h0M171.3 397.4h0M173.0 389.9h0M172.5 388.3h0M145.6 361.0h0M171.1 391.3h0M172.7 391.1h0M144.9 345.4h0M155.1 342.5h0M155.1 344.3h0M162.5 343.9h0M161.4 343.4h0M143.6 388.4h0M136.4 375.1h0M135.3 374.0h0M137.3 338.3h0M137.9 339.4h0M131.6 373.8h0M174.0 346.7h0M174.3 348.0h0M140.7 384.9h0M139.5 385.9h0M173.7 363.5h0M175.1 363.3h0M159.4 360.6h0M160.3 359.8h0M160.4 365.7h0M161.0 366.9h0M159.3 371.0h0M143.2 340.5h0M143.8 339.2h0M136.3 352.1h0M135.4 353.4h0M157.5 343.4h0M157.5 344.8h0M168.5 373.8h0M170.0 373.6h0M137.2 339.1h0M137.9 338.2h0M157.5 359.0h0M158.4 359.7h0M159.3 354.2h0M160.4 354.1h0M154.8 358.6h0M155.9 358.1h0M125.8 376.6h0M126.5 378.1h0M122.3 347.3h0M120.9 347.5h0M162.3 393.6h0M162.8 392.7h0M135.7 345.3h0M159.8 343.1h0M141.6 346.1h0M142.4 346.9h0M141.2 344.3h0M140.0 343.8h0M167.0 341.7h0M122.7 352.5h0M136.0 362.3h0M135.5 360.7h0M166.8 392.8h0M166.9 391.2h0M139.2 358.2h0M135.9 369.1h0M138.0 380.7h0M164.4 371.8h0M165.7 370.7h0M134.9 341.5h0M151.1 370.8h0M152.5 371.7h0M175.5 339.4h0M175.7 338.3h0M149.6 385.6h0M150.9 384.7h0M140.9 366.9h0M165.9 379.9h0M172.3 380.1h0M172.8 378.8h0M161.4 367.6h0M160.6 368.9h0M168.5 360.1h0M118.0 344.0h0M117.5 345.1h0M144.2 341.1h0M151.4 364.7h0M162.3 389.2h0M161.6 390.1h0M177.3 350.4h0M177.2 351.4h0M149.4 355.4h0M148.4 354.7h0M162.8 380.4h0M161.6 380.7h0M170.5 388.6h0M170.3 390.2h0M179.0 343.3h0M178.1 344.5h0M174.1 357.3h0M175.5 357.0h0M168.7 340.2h0M179.0 396.3h0M180.0 396.3h0M177.2 352.4h0M132.2 372.1h0M133.8 371.4h0M172.0 352.6h0M170.5 353.5h0M131.6 359.7h0M131.2 358.2h0M121.3 395.3h0M137.7 345.3h0M167.0 365.6h0M175.2 370.3h0M176.8 370.2h0M158.6 390.3h0M159.2 389.4h0M170.8 337.7h0M171.9 339.1h0M143.6 348.0h0M142.7 348.4h0M121.1 382.0h0M121.7 380.4h0M172.3 347.3h0M154.0 359.5h0M154.1 361.0h0M178.7 349.6h0M179.1 357.0h0M179.8 358.1h0M160.5 356.9h0M161.8 357.8h0M144.5 395.1h0M158.6 359.9h0M164.3 366.5h0M154.6 363.3h0M153.0 362.8h0M179.7 371.9h0M178.6 370.7h0M157.4 391.8h0M158.5 391.7h0M135.0 366.7h0M175.4 379.2h0M176.8 379.5h0M177.4 359.1h0M177.3 360.7h0M115.4 352.1h0M147.6 338.4h0M140.4 369.8h0M142.2 369.7h0M174.7 383.4h0M176.3 383.8h0M158.8 376.7h0M160.0 376.0h0M168.0 336.4h0M167.7 336.1h0M166.3 387.0h0M167.7 387.9h0M168.9 369.3h0M122.9 357.0h0M175.3 398.0h0M129.8 357.0h0M119.0 364.1h0M147.3 381.2h0M136.9 362.7h0M172.7 356.0h0M152.3 362.3h0M153.3 363.1h0M162.6 375.7h0M168.7 375.9h0M167.7 376.7h0M175.6 347.2h0M176.8 347.6h0M150.2 367.1h0M149.2 366.0h0M166.1 359.7h0M166.5 344.2h0M165.9 343.3h0M116.4 367.9h0M115.5 368.7h0M115.3 352.8h0M115.1 353.5h0M136.1 337.3h0M147.1 336.3h0M144.8 349.3h0M123.0 368.3h0M122.4 369.7h0M158.8 376.5h0M159.7 376.9h0M120.0 385.6h0M120.6 387.2h0M168.3 389.6h0M132.0 373.0h0M131.2 373.8h0M166.8 348.0h0M165.8 346.8h0M128.7 370.5h0M129.4 371.3h0M149.5 337.8h0M148.6 337.2h0M165.3 351.6h0M164.3 353.0h0M140.8 363.3h0M179.2 385.6h0M164.4 350.0h0M164.6 351.6h0M129.5 381.7h0M129.0 380.2h0M132.2 379.1h0M144.1 359.1h0M142.9 358.8h0M121.9 367.2h0M120.7 367.7h0M147.6 370.2h0M149.0 370.4h0M178.1 354.2h0M178.0 352.8h0M166.8 336.4h0M165.9 337.4h0M152.9 340.4h0M152.1 339.4h0M174.7 359.8h0M129.5 353.5h0M161.4 387.1h0M172.9 366.8h0M171.9 366.9h0M171.1 345.8h0M172.1 346.6h0M174.9 382.6h0M118.4 392.2h0M119.3 393.2h0M152.9 365.7h0M152.6 364.3h0M175.0 399.4h0M173.8 399.8h0M163.4 394.3h0M165.0 393.9h0M144.4 342.8h0M144.6 341.7h0M133.2 399.4h0M129.9 339.2h0M128.5 340.3h0M138.1 382.2h0M137.1 381.9h0M152.7 364.8h0M160.0 343.8h0M159.8 345.3h0M122.8 350.0h0M155.6 391.3h0M156.8 391.0h0M132.2 391.8h0M173.3 372.3h0M172.1 371.3h0M165.1 369.4h0M164.5 368.5h0M150.6 359.0h0M150.7 360.5h0M170.6 359.8h0M172.1 359.7h0M126.9 373.5h0M126.6 372.5h0M148.0 356.3h0M145.4 376.6h0M144.0 376.5h0M138.2 352.4h0M176.0 352.0h0M137.0 364.5h0M135.9 365.7h0M159.3 373.7h0M159.2 374.8h0M148.7 354.2h0M146.8 336.2h0M145.7 336.1h0M153.8 378.1h0M152.2 378.6h0M154.2 338.9h0M150.5 346.7h0M171.2 377.6h0M169.6 378.0h0M137.3 345.4h0M177.0 375.8h0M176.0 375.3h0M136.6 345.7h0M135.8 344.4h0M173.8 385.5h0M120.4 381.4h0M136.3 378.7h0M136.1 380.0h0M161.5 350.8h0M160.9 349.9h0M132.7 398.6h0M134.9 341.6h0M165.5 339.2h0M146.4 378.8h0M146.0 377.8h0M148.3 381.8h0M147.3 381.4h0M137.9 338.6h0M157.5 346.3h0M158.0 344.8h0M154.4 383.8h0M131.6 362.5h0M132.7 361.4h0M146.9 371.2h0M145.9 372.4h0M149.8 368.1h0M149.2 367.0h0M133.0 369.2h0M134.3 369.8h0M177.2 385.1h0M178.2 384.7h0M169.9 391.1h0M157.0 361.1h0M136.3 336.7h0M157.6 340.9h0M138.7 366.5h0M138.0 365.7h0M151.5 383.6h0M176.6 382.2h0M167.4 376.5h0M166.8 377.6h0M170.8 386.3h0M118.9 340.1h0M120.2 339.7h0M156.0 364.4h0M133.1 369.9h0M133.9 371.0h0M166.9 363.9h0M124.0 393.0h0M164.1 364.1h0M162.9 363.9h0M177.0 348.3h0M176.0 349.6h0M117.7 379.6h0M134.6 363.9h0M134.3 365.4h0M141.8 381.6h0M140.3 381.1h0M157.4 363.7h0M158.1 364.6h0M127.0 378.7h0M130.3 351.9h0M129.7 350.6h0M142.9 375.2h0M144.0 375.9h0M176.5 360.1h0M176.8 358.4h0M139.3 360.0h0M139.6 361.1h0M159.7 368.9h0M171.8 375.7h0M170.8 376.2h0M150.7 353.8h0M152.5 353.9h0M151.7 352.7h0M136.2 341.2h0M136.7 340.2h0M130.2 376.9h0M129.8 375.5h0M140.5 371.9h0M142.1 372.4h0M152.7 358.4h0M154.2 357.7h0M139.7 374.9h0M141.2 375.2h0M125.7 372.4h0M126.4 373.7h0M149.0 336.9h0M149.6 336.1h0M169.3 366.7h0M170.6 367.4h0M129.3 381.2h0M134.3 380.0h0M168.7 385.2h0M170.1 384.2h0M176.7 357.8h0M169.6 387.7h0M170.0 386.2h0M150.1 392.3h0M149.1 392.5h0M129.7 344.7h0M141.7 374.4h0M148.0 370.8h0M147.6 369.8h0M150.3 358.8h0M148.7 358.4h0M171.3 347.9h0M146.2 391.3h0M144.7 391.1h0M144.2 355.5h0M143.2 356.1h0M146.4 381.5h0M147.1 336.9h0M145.4 336.4h0M128.5 340.2h0M129.4 339.1h0M144.0 351.1h0M142.4 350.9h0M120.9 371.4h0M167.7 340.1h0M166.0 340.5h0M133.1 375.9h0M131.6 375.6h0M126.0 390.0h0M127.1 388.6h0M138.9 397.3h0M125.6 384.5h0M124.9 385.3h0M145.7 358.4h0M147.3 358.0h0M151.8 370.0h0M152.0 371.1h0M155.0 357.0h0M155.5 356.0h0M170.1 368.7h0M169.6 367.5h0M161.9 373.7h0M161.9 372.7h0M156.1 371.2h0M154.7 371.4h0M163.7 340.8h0M162.7 340.2h0M132.6 371.7h0M156.0 343.3h0M155.5 342.3h0M174.1 376.1h0M172.5 355.7h0M162.8 379.2h0M161.6 379.2h0M160.4 380.4h0M159.9 379.5h0M143.9 398.5h0M145.0 399.0h0M166.9 391.9h0M139.2 365.1h0M138.8 364.1h0M115.4 353.1h0M127.5 381.8h0M129.0 382.6h0M166.2 373.5h0M167.1 374.4h0M163.1 372.3h0M162.1 372.5h0M118.0 365.0h0M135.6 371.0h0M140.2 398.9h0M135.2 363.2h0M172.4 380.4h0M162.0 368.7h0M160.7 367.7h0M165.5 379.4h0M165.3 380.8h0M140.9 365.4h0M141.8 364.6h0M132.9 348.0h0M174.8 344.2h0M134.8 340.4h0M136.0 340.5h0M145.8 379.9h0M145.3 380.9h0M169.8 378.0h0M130.1 366.7h0M156.0 380.5h0M157.2 379.5h0M148.5 374.1h0M149.7 354.0h0M151.1 354.0h0M171.6 382.4h0M170.3 381.6h0M145.0 368.9h0M122.9 352.8h0M121.6 352.8h0M179.9 383.3h0M175.1 346.4h0M135.9 345.4h0M135.1 346.5h0M164.8 347.4h0M165.2 348.6h0M126.6 366.7h0M141.8 352.0h0M143.4 352.2h0M164.0 392.6h0M163.7 391.5h0M177.8 378.1h0M177.6 379.4h0M178.7 345.4h0M180.0 345.1h0M167.8 384.3h0M169.2 384.6h0M120.4 348.2h0M166.3 354.5h0M167.2 355.5h0M148.0 385.2h0M148.4 386.8h0M160.7 346.1h0M159.6 346.3h0M164.7 382.3h0M166.2 382.7h0M173.3 359.3h0M175.2 377.9h0M146.9 338.2h0M146.2 339.3h0M172.6 365.4h0M171.0 365.3h0M165.8 361.0h0M154.6 378.1h0M153.4 377.5h0M172.9 378.7h0M172.9 377.6h0M179.8 373.4h0M180.0 374.3h0M162.2 379.0h0M162.4 377.5h0M116.0 376.3h0M115.1 377.0h0M171.4 341.1h0M137.3 349.5h0M136.0 350.3h0M175.9 372.0h0M175.4 371.2h0M142.3 337.6h0M149.2 338.1h0M141.4 342.0h0M142.4 342.0h0M126.8 340.9h0M165.6 343.3h0M167.1 343.1h0M154.3 352.6h0M153.3 353.6h0M141.0 368.6h0M162.9 360.6h0M162.1 359.9h0M127.6 347.4h0M116.5 392.4h0M176.7 375.6h0M144.2 391.1h0M157.2 386.0h0M155.7 385.8h0M159.7 347.6h0M158.8 364.4h0M159.5 365.2h0M144.2 351.8h0M144.7 350.9h0M156.4 357.9h0M158.2 357.7h0M149.2 372.3h0M155.6 380.8h0M154.6 381.1h0M126.8 399.2h0M125.9 399.6h0M154.5 350.8h0M152.9 367.4h0M152.0 368.5h0M136.9 400.0h0M167.7 387.2h0M168.3 386.3h0M129.7 336.9h0M131.4 336.4h0M141.4 368.0h0M148.8 346.9h0M149.3 348.2h0M179.8 345.0h0M136.9 395.8h0M136.3 397.4h0M178.3 387.9h0M178.5 389.0h0M123.6 354.5h0M164.0 366.5h0M128.5 352.5h0M153.7 369.4h0M153.1 370.8h0M176.7 339.3h0M176.7 338.0h0M167.2 357.8h0M163.5 374.4h0M163.4 373.1h0M123.2 372.0h0M124.3 371.0h0M163.7 388.6h0M162.5 389.2h0M165.6 393.0h0M129.1 336.6h0M132.9 360.4h0M132.6 361.4h0M140.8 391.3h0M142.3 391.4h0M149.0 350.7h0M150.8 351.1h0M172.6 340.6h0M171.0 340.2h0M177.8 384.7h0M178.0 383.6h0M150.1 372.6h0M148.8 371.6h0M139.1 369.9h0M132.6 354.5h0M162.5 362.6h0M161.5 362.2h0M178.7 373.8h0M178.7 375.1h0M157.3 347.3h0M155.8 346.7h0M120.5 378.3h0M175.9 358.7h0M175.3 357.9h0M168.6 364.8h0M167.8 365.6h0M160.0 376.4h0M161.1 375.9h0M134.1 373.3h0M178.9 344.4h0M177.7 344.8h0M158.9 393.0h0M159.8 393.8h0M123.8 363.9h0M177.9 399.0h0M172.5 345.1h0M160.4 385.1h0M136.0 336.3h0M155.4 359.6h0M178.0 359.6h0M142.8 364.5h0M178.9 366.3h0M177.4 367.0h0M149.6 361.0h0M149.0 361.8h0M158.8 379.4h0M159.6 378.0h0M146.1 372.2h0M144.7 372.5h0M162.9 383.4h0M139.5 379.4h0M176.1 386.1h0M174.8 386.7h0M164.0 363.2h0M172.0 382.5h0M170.7 382.4h0M146.9 365.5h0M178.5 394.5h0M139.8 374.5h0M134.6 379.7h0M172.9 360.9h0M172.6 359.3h0M138.6 363.1h0M137.2 364.0h0M151.4 377.4h0M171.8 360.7h0M171.8 362.3h0M156.8 364.9h0M158.1 364.9h0M152.4 348.0h0M152.3 349.6h0M139.5 338.1h0M138.1 337.4h0M150.7 394.4h0M155.1 362.3h0M153.8 336.7h0M152.3 336.1h0M131.4 338.5h0M129.7 338.2h0M126.3 354.7h0M138.1 379.2h0M136.7 378.4h0M125.5 362.4h0M124.5 363.8h0M174.1 384.5h0M172.6 384.4h0M147.3 361.7h0M146.1 362.5h0M177.7 358.3h0M178.0 359.5h0M166.3 348.2h0M164.9 347.4h0M122.6 367.4h0M159.1 350.3h0M158.3 351.8h0M171.8 387.0h0M172.2 388.3h0M176.8 342.0h0M177.5 340.9h0M146.7 339.4h0M147.2 337.9h0M163.4 353.0h0M165.1 353.5h0M161.9 367.8h0M160.3 367.3h0M178.8 392.2h0M177.7 391.5h0M131.5 368.6h0M133.2 368.7h0M144.2 346.3h0M144.1 344.7h0M155.5 394.9h0M156.3 396.2h0M129.3 337.9h0M128.0 337.6h0M145.3 336.9h0M146.1 337.5h0M124.9 361.9h0M125.7 363.2h0M171.9 356.9h0M146.4 393.4h0M143.4 369.0h0M143.4 370.0h0M135.2 358.8h0M143.3 342.9h0M144.5 342.5h0M178.2 353.5h0M175.5 360.3h0M157.6 337.6h0M127.7 342.2h0M129.0 343.3h0M142.9 347.8h0M171.0 393.5h0M170.2 392.1h0M155.7 388.9h0M158.4 342.2h0M135.0 396.4h0M133.2 396.3h0M163.7 371.2h0M163.1 370.3h0M156.8 358.4h0M169.7 384.2h0M171.4 384.0h0M154.5 341.2h0M155.7 342.2h0M160.3 341.5h0M138.8 346.8h0M137.8 347.0h0M162.3 349.8h0M161.2 348.7h0M128.0 376.4h0M127.1 366.8h0M118.5 366.8h0M119.6 366.9h0M169.8 365.4h0M170.8 365.7h0M168.9 384.9h0M170.0 385.5h0M123.6 393.9h0M124.9 393.9h0M151.1 374.4h0M150.0 375.6h0M165.9 380.8h0M166.9 380.2h0M116.7 380.5h0M117.3 379.6h0M153.9 356.5h0M142.1 345.9h0M132.4 394.2h0M165.8 359.9h0M166.3 358.7h0M173.4 350.0h0M174.0 351.1h0M118.2 372.7h0M118.6 371.4h0M159.4 341.6h0M160.4 343.0h0M123.9 374.4h0M177.8 361.7h0M133.1 357.2h0M153.6 362.3h0M153.3 360.9h0M161.4 392.4h0M162.5 392.0h0M167.9 362.1h0M166.6 362.8h0M118.6 336.8h0M163.8 352.6h0M163.5 351.4h0M138.1 368.5h0M138.1 367.1h0M130.1 361.0h0M130.8 362.6h0M119.4 394.4h0M118.1 394.0h0M154.0 384.6h0M153.4 383.2h0M174.4 346.4h0M174.0 366.1h0M173.1 365.1h0M160.1 355.2h0M159.8 353.7h0M174.3 362.7h0M131.7 382.3h0M132.9 382.5h0M163.7 365.7h0M149.7 399.3h0M148.7 399.1h0M171.6 345.7h0M170.6 346.7h0M133.9 347.1h0M120.3 398.7h0M120.1 399.9h0M146.9 394.2h0M146.1 393.3h0M138.2 364.7h0M146.2 340.5h0M143.3 361.2h0M142.4 360.0h0M132.1 370.2h0M131.1 371.0h0M136.8 366.1h0M138.9 379.8h0M138.7 381.5h0M137.2 371.5h0M168.6 372.5h0M169.3 371.2h0M157.2 355.6h0M156.4 357.3h0M160.3 360.8h0M158.7 364.1h0M159.9 363.0h0M153.7 366.1h0M152.7 366.8h0M154.6 358.9h0M141.8 343.5h0M145.5 364.5h0M147.2 364.5h0M152.3 350.4h0M179.0 342.1h0M178.7 343.3h0M117.1 388.0h0M167.9 387.3h0M168.8 386.1h0M154.3 363.5h0M153.5 364.6h0M145.7 348.1h0M157.5 336.8h0M123.6 368.6h0M123.1 369.5h0M160.8 346.8h0M160.6 345.7h0M127.1 382.4h0M160.4 362.4h0M158.9 362.7h0M172.7 345.4h0M172.8 346.8h0M159.6 344.7h0M161.0 345.5h0M134.0 340.0h0M156.1 369.0h0M139.5 345.1h0M173.3 399.5h0M171.9 399.5h0M140.2 386.7h0M130.3 382.7h0M129.1 382.9h0M125.4 337.8h0M159.4 352.9h0M158.2 353.9h0M135.6 348.0h0M157.0 343.2h0M157.5 341.9h0M150.1 377.8h0M162.3 373.0h0M163.0 374.0h0M136.2 337.0h0M134.7 337.2h0M177.9 391.3h0M176.4 392.0h0M163.7 369.1h0M162.5 368.5h0M151.4 342.7h0M130.8 385.9h0M133.4 374.4h0M134.2 373.2h0M130.9 355.9h0M126.7 340.6h0M139.0 374.0h0M157.1 351.3h0M158.5 351.0h0M174.9 379.1h0M155.0 360.4h0M159.2 350.1h0" stroke="#2e2e2e" stroke-width="1.55" stroke-linecap="round" fill="none"/>
</g>
<rect x="218.50" y="391.50" width="14.00" height="2.40" fill="#111"/>
</g>
<g id="panelC">
<text x="1.8" y="433.6" font-size="25.6" font-weight="bold" stroke="#111" stroke-width="0.3" fill="#000">C</text>
<line x1="72.7" y1="440.21999999999997" x2="72.7" y2="597.9" stroke="#111" stroke-width="1.4"/>
<line x1="68.7" y1="597.3" x2="72.7" y2="597.3" stroke="#111" stroke-width="1.2"/>
<text x="59.6" y="601.5" font-size="11.7" text-anchor="end" fill="#111">0</text>
<line x1="68.7" y1="571.22" x2="72.7" y2="571.22" stroke="#111" stroke-width="1.2"/>
<text x="59.6" y="575.4" font-size="11.7" text-anchor="end" fill="#111">200</text>
<line x1="68.7" y1="545.14" x2="72.7" y2="545.14" stroke="#111" stroke-width="1.2"/>
<text x="59.6" y="549.3" font-size="11.7" text-anchor="end" fill="#111">400</text>
<line x1="68.7" y1="519.06" x2="72.7" y2="519.06" stroke="#111" stroke-width="1.2"/>
<text x="59.6" y="523.3" font-size="11.7" text-anchor="end" fill="#111">600</text>
<line x1="68.7" y1="492.98" x2="72.7" y2="492.98" stroke="#111" stroke-width="1.2"/>
<text x="59.6" y="497.2" font-size="11.7" text-anchor="end" fill="#111">800</text>
<line x1="68.7" y1="466.9" x2="72.7" y2="466.9" stroke="#111" stroke-width="1.2"/>
<text x="59.6" y="471.1" font-size="11.7" text-anchor="end" fill="#111">1000</text>
<line x1="68.7" y1="440.82" x2="72.7" y2="440.82" stroke="#111" stroke-width="1.2"/>
<text x="59.6" y="445.0" font-size="11.7" text-anchor="end" fill="#111">1200</text>
<text x="28.5" y="518.6" font-size="13" font-weight="bold" stroke="#111" stroke-width="0.3" text-anchor="middle" textLength="144.5" lengthAdjust="spacingAndGlyphs" transform="rotate(-90 28.5 518.6)" fill="#111">Adherent cells per mm<tspan dy="-4" font-size="8.4">2</tspan></text>
<line x1="68.7" y1="597.3" x2="249.34" y2="597.3" stroke="#111" stroke-width="1.3"/>
<text x="73.3" y="618.8" font-size="11.7" text-anchor="middle" fill="#111">0</text>
<text x="98.02" y="618.8" font-size="11.7" text-anchor="middle" fill="#111">50</text>
<text x="122.74" y="618.8" font-size="11.7" text-anchor="middle" fill="#111">100</text>
<text x="147.46" y="618.8" font-size="11.7" text-anchor="middle" fill="#111">150</text>
<text x="172.18" y="618.8" font-size="11.7" text-anchor="middle" fill="#111">200</text>
<text x="196.9" y="618.8" font-size="11.7" text-anchor="middle" fill="#111">250</text>
<text x="221.62" y="618.8" font-size="11.7" text-anchor="middle" fill="#111">300</text>
<text x="246.34" y="618.8" font-size="11.7" text-anchor="middle" fill="#111">350</text>
<text x="159.5" y="633.5" font-size="12.6" font-weight="bold" stroke="#111" stroke-width="0.3" text-anchor="middle" textLength="97" lengthAdjust="spacingAndGlyphs" fill="#111">Coated ATX (ng)</text>
<line x1="73.3" y1="597.3" x2="246.34" y2="597.3" stroke="#111" stroke-width="2.2" stroke-dasharray="2 2.4"/>
<line x1="73.3" y1="592.6999999999999" x2="73.3" y2="601.9" stroke="#111" stroke-width="2.2"/>
<line x1="78.24" y1="592.6999999999999" x2="78.24" y2="601.9" stroke="#111" stroke-width="2.2"/>
<line x1="85.66" y1="592.6999999999999" x2="85.66" y2="601.9" stroke="#111" stroke-width="2.2"/>
<line x1="98.02" y1="592.6999999999999" x2="98.02" y2="601.9" stroke="#111" stroke-width="1.7"/>
<line x1="122.74" y1="592.6999999999999" x2="122.74" y2="601.9" stroke="#111" stroke-width="1.7"/>
<line x1="147.46" y1="592.6999999999999" x2="147.46" y2="601.9" stroke="#111" stroke-width="1.7"/>
<line x1="172.18" y1="592.6999999999999" x2="172.18" y2="601.9" stroke="#111" stroke-width="1.7"/>
<line x1="246.34" y1="592.6999999999999" x2="246.34" y2="601.9" stroke="#111" stroke-width="1.1"/>
<line x1="110.38" y1="595.6999999999999" x2="110.38" y2="598.9" stroke="#111" stroke-width="1.2"/>
<line x1="135.1" y1="595.6999999999999" x2="135.1" y2="598.9" stroke="#111" stroke-width="1.2"/>
<line x1="159.82" y1="595.6999999999999" x2="159.82" y2="598.9" stroke="#111" stroke-width="1.2"/>
<line x1="184.54" y1="595.6999999999999" x2="184.54" y2="598.9" stroke="#111" stroke-width="1.2"/>
<line x1="196.9" y1="595.6999999999999" x2="196.9" y2="598.9" stroke="#111" stroke-width="1.2"/>
<line x1="209.26" y1="595.6999999999999" x2="209.26" y2="598.9" stroke="#111" stroke-width="1.2"/>
<line x1="221.62" y1="595.6999999999999" x2="221.62" y2="598.9" stroke="#111" stroke-width="1.2"/>
<line x1="233.98" y1="595.6999999999999" x2="233.98" y2="598.9" stroke="#111" stroke-width="1.2"/>
<path d="M122.74 597.3 L131.64 564.7 C140.04 524.28 144.99 485.16 172.18 468.86 C189.48 464.29 221.62 462.34 246.34 461.03" fill="none" stroke="#111" stroke-width="1.7"/>
<line x1="147.46" y1="490" x2="147.46" y2="510.6" stroke="#111" stroke-width="1.3"/>
<line x1="143.46" y1="490" x2="151.46" y2="490" stroke="#111" stroke-width="1.3"/>
<line x1="143.46" y1="510.6" x2="151.46" y2="510.6" stroke="#111" stroke-width="1.3"/>
<line x1="172.18" y1="465.4" x2="172.18" y2="472.2" stroke="#111" stroke-width="1.3"/>
<line x1="168.18" y1="465.4" x2="176.18" y2="465.4" stroke="#111" stroke-width="1.3"/>
<line x1="168.18" y1="472.2" x2="176.18" y2="472.2" stroke="#111" stroke-width="1.3"/>
<line x1="246.34" y1="456.2" x2="246.34" y2="465.4" stroke="#111" stroke-width="1.3"/>
<line x1="242.34" y1="456.2" x2="250.34" y2="456.2" stroke="#111" stroke-width="1.3"/>
<line x1="242.34" y1="465.4" x2="250.34" y2="465.4" stroke="#111" stroke-width="1.3"/>
<text x="114.8" y="498.8" font-size="10.6" font-family="DejaVu Sans, sans-serif" textLength="26.6" lengthAdjust="spacing" fill="#111">★★★</text>
<text x="146.8" y="459" font-size="10.6" font-family="DejaVu Sans, sans-serif" textLength="26.6" lengthAdjust="spacing" fill="#111">★★★</text>
<text x="221.8" y="449.6" font-size="10.6" font-family="DejaVu Sans, sans-serif" textLength="26.6" lengthAdjust="spacing" fill="#111">★★★</text>
<line x1="157.3" y1="519.8" x2="197.5" y2="519.8" stroke="#111" stroke-width="1.7" stroke-dasharray="4.9 3.9"/>
<text x="203.7" y="523.4" font-size="11.7" textLength="29.3" lengthAdjust="spacingAndGlyphs" fill="#111">dhfr+</text>
<line x1="157.3" y1="535.6" x2="197.3" y2="535.6" stroke="#111" stroke-width="1.7"/>
<text x="203.7" y="539.3" font-size="11.7" textLength="31.7" lengthAdjust="spacingAndGlyphs" fill="#111">β3WT</text>
<line x1="158" y1="551" x2="197" y2="551" stroke="#111" stroke-width="3" stroke-dasharray="0.1 4.7" stroke-linecap="round"/>
<text x="203.7" y="554.8" font-size="11.7" textLength="46" lengthAdjust="spacingAndGlyphs" fill="#111">β3-Δ744</text>
</g>
<g id="panelD">
<text x="1.4" y="653.4" font-size="25.6" font-weight="bold" stroke="#111" stroke-width="0.3" fill="#000">D</text>
<line x1="72.7" y1="657.41" x2="72.7" y2="811.0" stroke="#111" stroke-width="1.4"/>
<line x1="68.7" y1="810.4" x2="72.7" y2="810.4" stroke="#111" stroke-width="1.2"/>
<text x="59.2" y="814.6" font-size="11.7" text-anchor="end" fill="#111">0</text>
<line x1="68.7" y1="788.63" x2="72.7" y2="788.63" stroke="#111" stroke-width="1.2"/>
<text x="59.2" y="792.8" font-size="11.7" text-anchor="end" fill="#111">200</text>
<line x1="68.7" y1="766.86" x2="72.7" y2="766.86" stroke="#111" stroke-width="1.2"/>
<text x="59.2" y="771.1" font-size="11.7" text-anchor="end" fill="#111">400</text>
<line x1="68.7" y1="745.09" x2="72.7" y2="745.09" stroke="#111" stroke-width="1.2"/>
<text x="59.2" y="749.3" font-size="11.7" text-anchor="end" fill="#111">600</text>
<line x1="68.7" y1="723.32" x2="72.7" y2="723.32" stroke="#111" stroke-width="1.2"/>
<text x="59.2" y="727.5" font-size="11.7" text-anchor="end" fill="#111">800</text>
<line x1="68.7" y1="701.55" x2="72.7" y2="701.55" stroke="#111" stroke-width="1.2"/>
<text x="59.2" y="705.8" font-size="11.7" text-anchor="end" fill="#111">1000</text>
<line x1="68.7" y1="679.78" x2="72.7" y2="679.78" stroke="#111" stroke-width="1.2"/>
<text x="59.2" y="684.0" font-size="11.7" text-anchor="end" fill="#111">1200</text>
<line x1="68.7" y1="658.01" x2="72.7" y2="658.01" stroke="#111" stroke-width="1.2"/>
<text x="59.2" y="662.2" font-size="11.7" text-anchor="end" fill="#111">1400</text>
<text x="30.8" y="731.5" font-size="13" font-weight="bold" stroke="#111" stroke-width="0.3" text-anchor="middle" textLength="145" lengthAdjust="spacingAndGlyphs" transform="rotate(-90 30.8 731.5)" fill="#111">Adherent cells per mm<tspan dy="-4" font-size="8.4">2</tspan></text>
<line x1="68.7" y1="810.4" x2="251.5" y2="810.4" stroke="#111" stroke-width="1.3"/>
<line x1="73.4" y1="810.4" x2="73.4" y2="814.9" stroke="#111" stroke-width="1.2"/>
<line x1="133" y1="810.4" x2="133" y2="814.9" stroke="#111" stroke-width="1.2"/>
<line x1="192.7" y1="810.4" x2="192.7" y2="814.9" stroke="#111" stroke-width="1.2"/>
<line x1="251" y1="810.4" x2="251" y2="814.9" stroke="#111" stroke-width="1.2"/>
<rect x="87.00" y="690.80" width="15.40" height="119.60" fill="#fff" stroke="#111" stroke-width="1.6"/>
<line x1="94.7" y1="687" x2="94.7" y2="693.5" stroke="#111" stroke-width="1.2"/>
<line x1="89.7" y1="687" x2="99.7" y2="687" stroke="#111" stroke-width="1.2"/>
<line x1="89.7" y1="693.5" x2="99.7" y2="693.5" stroke="#111" stroke-width="1.2"/>
<rect x="103.20" y="808.00" width="17.20" height="2.40" fill="#000"/>
<line x1="111.8" y1="805.5" x2="111.8" y2="808" stroke="#111" stroke-width="1.2"/>
<line x1="107.3" y1="805.5" x2="116.3" y2="805.5" stroke="#111" stroke-width="1.2"/>
<rect x="146.20" y="808.00" width="16.00" height="2.40" fill="#fff" stroke="#111" stroke-width="1.6"/>
<line x1="154.2" y1="805.6" x2="154.2" y2="808.4" stroke="#111" stroke-width="1.2"/>
<line x1="149.7" y1="805.6" x2="158.7" y2="805.6" stroke="#111" stroke-width="1.2"/>
<line x1="149.7" y1="808.4" x2="158.7" y2="808.4" stroke="#111" stroke-width="1.2"/>
<rect x="163.00" y="809.00" width="17.00" height="1.40" fill="#000"/>
<rect x="206.80" y="676.80" width="15.90" height="133.60" fill="#fff" stroke="#111" stroke-width="1.6"/>
<line x1="214.8" y1="671.5" x2="214.8" y2="680" stroke="#111" stroke-width="1.2"/>
<line x1="209.8" y1="671.5" x2="219.8" y2="671.5" stroke="#111" stroke-width="1.2"/>
<line x1="209.8" y1="680" x2="219.8" y2="680" stroke="#111" stroke-width="1.2"/>
<rect x="223.50" y="807.30" width="17.30" height="3.10" fill="#000"/>
<line x1="232" y1="806" x2="232" y2="807.3" stroke="#111" stroke-width="1.2"/>
<line x1="227.5" y1="806" x2="236.5" y2="806" stroke="#111" stroke-width="1.2"/>
<text x="105.8" y="804.5" font-size="16" font-family="DejaVu Sans, sans-serif" textLength="25.6" lengthAdjust="spacing" fill="#111" stroke="#111" stroke-width="0.25">***</text>
<text x="225" y="804.5" font-size="16" font-family="DejaVu Sans, sans-serif" textLength="25.4" lengthAdjust="spacing" fill="#111" stroke="#111" stroke-width="0.25">***</text>
<rect x="125.90" y="676.60" width="7.50" height="7.30" fill="#fff" stroke="#111" stroke-width="1.7"/>
<text x="136.2" y="685.2" font-size="12.6" textLength="46.6" lengthAdjust="spacingAndGlyphs" fill="#111">MOPC21</text>
<rect x="124.60" y="702.00" width="9.60" height="9.00" fill="#000"/>
<text x="136.2" y="712" font-size="12.6" textLength="36.4" lengthAdjust="spacingAndGlyphs" fill="#111">LM609</text>
<text x="102.6" y="831.8" font-size="11.6" font-weight="bold" stroke="#111" stroke-width="0.3" text-anchor="middle" textLength="22.3" lengthAdjust="spacingAndGlyphs" fill="#111">ATX</text>
<text x="163.6" y="831.8" font-size="11.6" font-weight="bold" stroke="#111" stroke-width="0.3" text-anchor="middle" textLength="21.3" lengthAdjust="spacingAndGlyphs" fill="#111">BSA</text>
<text x="223.2" y="831.8" font-size="11.6" font-weight="bold" stroke="#111" stroke-width="0.3" text-anchor="middle" textLength="12.6" lengthAdjust="spacingAndGlyphs" fill="#111">FN</text>
</g>
<g id="panelE">
<text x="277.6" y="21.4" font-size="25.6" font-weight="bold" stroke="#111" stroke-width="0.3" fill="#000">E</text>
<text x="342.5" y="28.2" font-size="12.8" font-weight="bold" stroke="#111" stroke-width="0.3" textLength="72" lengthAdjust="spacingAndGlyphs" fill="#111">Total Lysate</text>
<text x="425" y="28.2" font-size="12.8" font-weight="bold" stroke="#111" stroke-width="0.3" textLength="64.3" lengthAdjust="spacingAndGlyphs" fill="#111">IP : LM609</text>
<line x1="344.5" y1="36.1" x2="414.5" y2="36.1" stroke="#111" stroke-width="1.4"/>
<line x1="421.3" y1="35.9" x2="490" y2="35.9" stroke="#111" stroke-width="1.4"/>
<text x="349.5" y="92.5" font-size="12.2" textLength="54.5" lengthAdjust="spacingAndGlyphs" transform="rotate(-60 349.5 92.5)" fill="#111" stroke="#111" stroke-width="0.2">dhfr+/ATX</text>
<text x="387.5" y="93" font-size="12.2" textLength="59" lengthAdjust="spacingAndGlyphs" transform="rotate(-60 387.5 93)" fill="#111" stroke="#111" stroke-width="0.2">β3WT/ATX</text>
<text x="426.5" y="91.5" font-size="12.2" textLength="54.5" lengthAdjust="spacingAndGlyphs" transform="rotate(-60 426.5 91.5)" fill="#111" stroke="#111" stroke-width="0.2">dhfr+/ATX</text>
<text x="464" y="93" font-size="12.2" textLength="59" lengthAdjust="spacingAndGlyphs" transform="rotate(-60 464 93)" fill="#111" stroke="#111" stroke-width="0.2">β3WT/ATX</text>
<rect x="330.00" y="96.20" width="146.30" height="160.00" fill="url(#gelbg)" stroke="#111" stroke-width="1.5"/>
<g filter="url(#blur4)">
<rect x="401" y="150" width="73" height="78" fill="#e9e9e9"/>
</g>
<g filter="url(#blur2)">
<rect x="334" y="162" width="24" height="2.4" fill="#cdcdcd"/>
<rect x="367" y="160" width="29" height="4.5" fill="#d2d2d2"/>
<rect x="403" y="191.5" width="25" height="9" fill="#bdbdbd"/>
<rect x="441" y="191.5" width="30" height="9" fill="#c0c0c0"/>
<rect x="403" y="181" width="68" height="4" fill="#d9d9d9"/>
<rect x="334" y="176.5" width="62" height="2.5" fill="#e0e0e0"/>
<rect x="404" y="153" width="22" height="3" fill="#e0e0e0"/>
</g>
<g filter="url(#blur1)">
<rect x="332.6" y="150.2" width="27.6" height="5.6" rx="2.8" fill="#050505"/>
<ellipse cx="381.2" cy="154" rx="16.6" ry="4.5" fill="#000"/>
<rect x="367.5" y="151" width="27.5" height="6" rx="3" fill="#000"/>
<ellipse cx="419" cy="214.6" rx="18.4" ry="4.6" fill="#050505"/>
<rect x="403.5" y="211.4" width="32" height="6.4" rx="3.2" fill="#050505"/>
<ellipse cx="456.3" cy="218.3" rx="19.6" ry="4.4" fill="#000"/>
<rect x="439" y="215.2" width="35" height="6.2" rx="3.1" fill="#000"/>
<rect x="432" y="215" width="10" height="4.5" fill="#000"/>
</g>
<g filter="url(#blur1)">
<rect x="441" y="153.9" width="28.6" height="3.2" rx="1.6" fill="#6c6c6c"/>
</g>
<rect x="330.80" y="238.00" width="144.80" height="17.40" fill="#fcfcfc"/>
<rect x="330.00" y="96.20" width="146.30" height="160.00" fill="none" stroke="#111" stroke-width="1.5"/>
<text x="286.3" y="158.3" font-size="11.6" textLength="39.4" lengthAdjust="spacingAndGlyphs" fill="#111">120kDa</text>
<path d="M477.3 155 L486.6 150.2 L486.6 159.8 Z" fill="#000"/>
<line x1="486" y1="155" x2="494" y2="155" stroke="#111" stroke-width="1.4"/>
<text x="494.6" y="159" font-size="11.4" textLength="21" lengthAdjust="spacingAndGlyphs" fill="#111">ATX</text>
<text x="360.9" y="276.4" font-size="11.6" font-weight="bold" stroke="#111" stroke-width="0.3" textLength="86" lengthAdjust="spacingAndGlyphs" fill="#111">WB : Anti-ATX</text>
</g>
<g id="panelF">
<text x="277.4" y="305.3" font-size="25.6" font-weight="bold" stroke="#111" stroke-width="0.3" fill="#000">F</text>
<line x1="330.4" y1="318.7" x2="330.4" y2="499.3" stroke="#111" stroke-width="1.4"/>
<line x1="326.4" y1="498.7" x2="330.4" y2="498.7" stroke="#111" stroke-width="1.2"/>
<text x="318.4" y="502.9" font-size="11.7" text-anchor="end" fill="#111">0</text>
<line x1="326.4" y1="468.8" x2="330.4" y2="468.8" stroke="#111" stroke-width="1.2"/>
<text x="318.4" y="473.0" font-size="11.7" text-anchor="end" fill="#111">20</text>
<line x1="326.4" y1="438.9" x2="330.4" y2="438.9" stroke="#111" stroke-width="1.2"/>
<text x="318.4" y="443.1" font-size="11.7" text-anchor="end" fill="#111">40</text>
<line x1="326.4" y1="409.0" x2="330.4" y2="409.0" stroke="#111" stroke-width="1.2"/>
<text x="318.4" y="413.2" font-size="11.7" text-anchor="end" fill="#111">60</text>
<line x1="326.4" y1="379.1" x2="330.4" y2="379.1" stroke="#111" stroke-width="1.2"/>
<text x="318.4" y="383.3" font-size="11.7" text-anchor="end" fill="#111">80</text>
<line x1="326.4" y1="349.2" x2="330.4" y2="349.2" stroke="#111" stroke-width="1.2"/>
<text x="318.4" y="353.4" font-size="11.7" text-anchor="end" fill="#111">100</text>
<line x1="326.4" y1="319.3" x2="330.4" y2="319.3" stroke="#111" stroke-width="1.2"/>
<text x="318.4" y="323.5" font-size="11.7" text-anchor="end" fill="#111">120</text>
<text x="296.6" y="414" font-size="13.2" font-weight="bold" stroke="#111" stroke-width="0.3" text-anchor="middle" textLength="175.5" lengthAdjust="spacingAndGlyphs" transform="rotate(-90 296.6 414)" fill="#111">Adherent cells (% of control)</text>
<line x1="326.4" y1="498.7" x2="517.4" y2="498.7" stroke="#111" stroke-width="1.3"/>
<line x1="330.4" y1="498.7" x2="330.4" y2="503.2" stroke="#111" stroke-width="1.2"/>
<line x1="361.5" y1="498.7" x2="361.5" y2="503.2" stroke="#111" stroke-width="1.2"/>
<line x1="392.6" y1="498.7" x2="392.6" y2="503.2" stroke="#111" stroke-width="1.2"/>
<line x1="423.7" y1="498.7" x2="423.7" y2="503.2" stroke="#111" stroke-width="1.2"/>
<line x1="454.8" y1="498.7" x2="454.8" y2="503.2" stroke="#111" stroke-width="1.2"/>
<line x1="485.9" y1="498.7" x2="485.9" y2="503.2" stroke="#111" stroke-width="1.2"/>
<line x1="517.0" y1="498.7" x2="517.0" y2="503.2" stroke="#111" stroke-width="1.2"/>
<rect x="339.00" y="348.60" width="14.60" height="150.10" fill="#000"/>
<line x1="346.3" y1="343.6" x2="346.3" y2="348.6" stroke="#111" stroke-width="1.7"/>
<line x1="341.1" y1="343.6" x2="351.5" y2="343.6" stroke="#111" stroke-width="1.7"/>
<rect x="370.00" y="368.00" width="14.60" height="130.70" fill="#000"/>
<line x1="377.3" y1="364.6" x2="377.3" y2="368" stroke="#111" stroke-width="1.7"/>
<line x1="372.1" y1="364.6" x2="382.5" y2="364.6" stroke="#111" stroke-width="1.7"/>
<rect x="401.50" y="395.40" width="14.60" height="103.30" fill="#000"/>
<line x1="408.8" y1="392.6" x2="408.8" y2="395.4" stroke="#111" stroke-width="1.7"/>
<line x1="403.6" y1="392.6" x2="414.0" y2="392.6" stroke="#111" stroke-width="1.7"/>
<rect x="432.40" y="398.00" width="14.60" height="100.70" fill="#000"/>
<line x1="439.7" y1="395.6" x2="439.7" y2="398" stroke="#111" stroke-width="1.7"/>
<line x1="434.5" y1="395.6" x2="444.9" y2="395.6" stroke="#111" stroke-width="1.7"/>
<rect x="463.30" y="421.20" width="14.60" height="77.50" fill="#000"/>
<line x1="470.6" y1="413.5" x2="470.6" y2="421.2" stroke="#111" stroke-width="1.7"/>
<line x1="465.40000000000003" y1="413.5" x2="475.8" y2="413.5" stroke="#111" stroke-width="1.7"/>
<rect x="494.40" y="418.50" width="14.60" height="80.20" fill="#000"/>
<line x1="501.7" y1="415.6" x2="501.7" y2="418.5" stroke="#111" stroke-width="1.7"/>
<line x1="496.5" y1="415.6" x2="506.9" y2="415.6" stroke="#111" stroke-width="1.7"/>
<text x="346.3" y="520.5" font-size="11.2" text-anchor="middle" textLength="18" lengthAdjust="spacingAndGlyphs" fill="#111">BSA</text>
<text x="377.3" y="520.5" font-size="11.2" text-anchor="middle" fill="#111">0.2</text>
<text x="408.8" y="520.5" font-size="11.2" text-anchor="middle" fill="#111">1.5</text>
<text x="439.7" y="520.5" font-size="11.2" text-anchor="middle" fill="#111">5</text>
<text x="470.6" y="520.5" font-size="11.2" text-anchor="middle" fill="#111">15</text>
<text x="501.7" y="520.5" font-size="11.2" text-anchor="middle" fill="#111">120</text>
<text x="364.2" y="540.6" font-size="13" font-weight="bold" stroke="#111" stroke-width="0.3" textLength="121.6" lengthAdjust="spacingAndGlyphs" fill="#111">Soluble ATX(μg/ml)</text>
<text x="397.3" y="389.8" font-size="16" font-family="DejaVu Sans, sans-serif" textLength="25.4" lengthAdjust="spacing" fill="#111" stroke="#111" stroke-width="0.25">***</text>
<text x="427.4" y="394" font-size="16" font-family="DejaVu Sans, sans-serif" textLength="25.4" lengthAdjust="spacing" fill="#111" stroke="#111" stroke-width="0.25">***</text>
<text x="458.8" y="411" font-size="16" font-family="DejaVu Sans, sans-serif" textLength="25.4" lengthAdjust="spacing" fill="#111" stroke="#111" stroke-width="0.25">***</text>
<text x="489.8" y="413.5" font-size="16" font-family="DejaVu Sans, sans-serif" textLength="25.4" lengthAdjust="spacing" fill="#111" stroke="#111" stroke-width="0.25">***</text>
</g>
<g id="panelG">
<text x="278.2" y="562.1" font-size="25.6" font-weight="bold" stroke="#111" stroke-width="0.3" fill="#000">G</text>
<line x1="342.9" y1="583.3" x2="342.9" y2="760.0" stroke="#111" stroke-width="1.4"/>
<line x1="338.9" y1="759.4" x2="342.9" y2="759.4" stroke="#111" stroke-width="1.2"/>
<text x="330.4" y="764.6" font-size="11.7" text-anchor="end" fill="#111">0</text>
<line x1="338.9" y1="730.15" x2="342.9" y2="730.15" stroke="#111" stroke-width="1.2"/>
<text x="330.4" y="735.4" font-size="11.7" text-anchor="end" fill="#111">20</text>
<line x1="338.9" y1="700.9" x2="342.9" y2="700.9" stroke="#111" stroke-width="1.2"/>
<text x="330.4" y="706.1" font-size="11.7" text-anchor="end" fill="#111">40</text>
<line x1="338.9" y1="671.65" x2="342.9" y2="671.65" stroke="#111" stroke-width="1.2"/>
<text x="330.4" y="676.9" font-size="11.7" text-anchor="end" fill="#111">60</text>
<line x1="338.9" y1="642.4" x2="342.9" y2="642.4" stroke="#111" stroke-width="1.2"/>
<text x="330.4" y="647.6" font-size="11.7" text-anchor="end" fill="#111">80</text>
<line x1="338.9" y1="613.15" x2="342.9" y2="613.15" stroke="#111" stroke-width="1.2"/>
<text x="330.4" y="618.4" font-size="11.7" text-anchor="end" fill="#111">100</text>
<line x1="338.9" y1="583.9" x2="342.9" y2="583.9" stroke="#111" stroke-width="1.2"/>
<text x="330.4" y="589.1" font-size="11.7" text-anchor="end" fill="#111">120</text>
<text x="305.6" y="671.5" font-size="13.2" font-weight="bold" stroke="#111" stroke-width="0.3" text-anchor="middle" textLength="175.5" lengthAdjust="spacingAndGlyphs" transform="rotate(-90 305.6 671.5)" fill="#111">Adherent cells (% of control)</text>
<line x1="338.9" y1="759.4" x2="518.4" y2="759.4" stroke="#111" stroke-width="1.3"/>
<line x1="343.4" y1="759.4" x2="343.4" y2="763.9" stroke="#111" stroke-width="1.2"/>
<line x1="386.8" y1="759.4" x2="386.8" y2="763.9" stroke="#111" stroke-width="1.2"/>
<line x1="430.4" y1="759.4" x2="430.4" y2="763.9" stroke="#111" stroke-width="1.2"/>
<line x1="474" y1="759.4" x2="474" y2="763.9" stroke="#111" stroke-width="1.2"/>
<line x1="518" y1="759.4" x2="518" y2="763.9" stroke="#111" stroke-width="1.2"/>
<rect x="355.80" y="613.00" width="17.20" height="146.40" fill="#000"/>
<line x1="364.4" y1="610" x2="364.4" y2="613" stroke="#111" stroke-width="1.7"/>
<line x1="359.0" y1="610" x2="369.79999999999995" y2="610" stroke="#111" stroke-width="1.7"/>
<rect x="399.40" y="627.70" width="17.20" height="131.70" fill="#000"/>
<line x1="408" y1="618.8" x2="408" y2="627.7" stroke="#111" stroke-width="1.7"/>
<line x1="402.6" y1="618.8" x2="413.4" y2="618.8" stroke="#111" stroke-width="1.7"/>
<rect x="443.10" y="684.20" width="17.20" height="75.20" fill="#000"/>
<line x1="451.7" y1="676.5" x2="451.7" y2="684.2" stroke="#111" stroke-width="1.7"/>
<line x1="446.3" y1="676.5" x2="457.09999999999997" y2="676.5" stroke="#111" stroke-width="1.7"/>
<rect x="486.40" y="677.30" width="17.20" height="82.10" fill="#000"/>
<line x1="495" y1="672" x2="495" y2="677.3" stroke="#111" stroke-width="1.7"/>
<line x1="489.6" y1="672" x2="500.4" y2="672" stroke="#111" stroke-width="1.7"/>
<text x="439.3" y="674" font-size="16" font-family="DejaVu Sans, sans-serif" textLength="26.4" lengthAdjust="spacing" fill="#111" stroke="#111" stroke-width="0.25">***</text>
<text x="483.5" y="669" font-size="16" font-family="DejaVu Sans, sans-serif" textLength="26.2" lengthAdjust="spacing" fill="#111" stroke="#111" stroke-width="0.25">***</text>
<text x="296.2" y="787.5" font-size="11.2" font-weight="bold" stroke="#111" stroke-width="0.3" textLength="46.6" lengthAdjust="spacingAndGlyphs" fill="#111">Soluble :</text>
<text x="297.3" y="823.9" font-size="11.2" font-weight="bold" stroke="#111" stroke-width="0.3" textLength="45.4" lengthAdjust="spacingAndGlyphs" fill="#111">Coated :</text>
<text x="365.9" y="787.5" font-size="11.2" font-weight="bold" stroke="#111" stroke-width="0.3" text-anchor="middle" textLength="20.8" lengthAdjust="spacingAndGlyphs" fill="#111">BSA</text>
<text x="408.3" y="787.5" font-size="11.2" font-weight="bold" stroke="#111" stroke-width="0.3" text-anchor="middle" textLength="20.8" lengthAdjust="spacingAndGlyphs" fill="#111">BSA</text>
<text x="451.7" y="787.5" font-size="11.2" font-weight="bold" stroke="#111" stroke-width="0.3" text-anchor="middle" textLength="21.3" lengthAdjust="spacingAndGlyphs" fill="#111">ATX</text>
<text x="493.5" y="779.3" font-size="11.2" font-weight="bold" stroke="#111" stroke-width="0.3" text-anchor="middle" textLength="21.3" lengthAdjust="spacingAndGlyphs" fill="#111">ATX</text>
<text x="493.6" y="794.5" font-size="11.2" font-weight="bold" stroke="#111" stroke-width="0.3" text-anchor="middle" textLength="34.2" lengthAdjust="spacingAndGlyphs" fill="#111">T209A</text>
<line x1="348" y1="800.8" x2="378.8" y2="800.8" stroke="#000" stroke-width="2.2"/>
<line x1="392.8" y1="800.8" x2="424" y2="800.8" stroke="#000" stroke-width="2.2"/>
<line x1="436.5" y1="800.8" x2="467" y2="800.8" stroke="#000" stroke-width="2.2"/>
<line x1="480" y1="800.8" x2="510.4" y2="800.8" stroke="#000" stroke-width="2.2"/>
<text x="363.3" y="823.9" font-size="11.2" font-weight="bold" stroke="#111" stroke-width="0.3" text-anchor="middle" textLength="21.3" lengthAdjust="spacingAndGlyphs" fill="#111">ATX</text>
<text x="408.3" y="815.8" font-size="11.2" font-weight="bold" stroke="#111" stroke-width="0.3" text-anchor="middle" textLength="21.3" lengthAdjust="spacingAndGlyphs" fill="#111">ATX</text>
<text x="408.3" y="831.2" font-size="11.2" font-weight="bold" stroke="#111" stroke-width="0.3" text-anchor="middle" textLength="34.2" lengthAdjust="spacingAndGlyphs" fill="#111">T209A</text>
<text x="452.8" y="823.9" font-size="11.2" font-weight="bold" stroke="#111" stroke-width="0.3" text-anchor="middle" textLength="21.3" lengthAdjust="spacingAndGlyphs" fill="#111">ATX</text>
<text x="494.2" y="823.9" font-size="11.2" font-weight="bold" stroke="#111" stroke-width="0.3" text-anchor="middle" textLength="21.3" lengthAdjust="spacingAndGlyphs" fill="#111">ATX</text>
</g>
<g id="panelH">
<text x="1.5" y="853.2" font-size="25.6" font-weight="bold" stroke="#111" stroke-width="0.3" fill="#000">H</text>
<line x1="73" y1="865.72" x2="73" y2="1028.1999999999998" stroke="#111" stroke-width="1.4"/>
<line x1="69" y1="1027.6" x2="73" y2="1027.6" stroke="#111" stroke-width="1.2"/>
<text x="61" y="1032.4" font-size="10.8" text-anchor="end" fill="#111">0</text>
<line x1="69" y1="1007.44" x2="73" y2="1007.44" stroke="#111" stroke-width="1.2"/>
<text x="61" y="1012.2" font-size="10.8" text-anchor="end" fill="#111">2</text>
<line x1="69" y1="987.28" x2="73" y2="987.28" stroke="#111" stroke-width="1.2"/>
<text x="61" y="992.1" font-size="10.8" text-anchor="end" fill="#111">4</text>
<line x1="69" y1="967.12" x2="73" y2="967.12" stroke="#111" stroke-width="1.2"/>
<text x="61" y="971.9" font-size="10.8" text-anchor="end" fill="#111">6</text>
<line x1="69" y1="946.96" x2="73" y2="946.96" stroke="#111" stroke-width="1.2"/>
<text x="61" y="951.8" font-size="10.8" text-anchor="end" fill="#111">8</text>
<line x1="69" y1="926.8" x2="73" y2="926.8" stroke="#111" stroke-width="1.2"/>
<text x="61" y="931.6" font-size="10.8" text-anchor="end" fill="#111">10</text>
<line x1="69" y1="906.64" x2="73" y2="906.64" stroke="#111" stroke-width="1.2"/>
<text x="61" y="911.4" font-size="10.8" text-anchor="end" fill="#111">12</text>
<line x1="69" y1="886.48" x2="73" y2="886.48" stroke="#111" stroke-width="1.2"/>
<text x="61" y="891.3" font-size="10.8" text-anchor="end" fill="#111">14</text>
<line x1="69" y1="866.32" x2="73" y2="866.32" stroke="#111" stroke-width="1.2"/>
<text x="61" y="871.1" font-size="10.8" text-anchor="end" fill="#111">16</text>
<text x="35.4" y="952" font-size="12.2" font-weight="bold" stroke="#111" stroke-width="0.3" text-anchor="middle" textLength="166.5" lengthAdjust="spacingAndGlyphs" transform="rotate(-90 35.4 952)" fill="#111">Proliferation (% of control)</text>
<line x1="69" y1="1027.6" x2="439" y2="1027.6" stroke="#111" stroke-width="1.3"/>
<line x1="73.4" y1="1027.6" x2="73.4" y2="1032.1" stroke="#111" stroke-width="1.2"/>
<line x1="146" y1="1027.6" x2="146" y2="1032.1" stroke="#111" stroke-width="1.2"/>
<line x1="219" y1="1027.6" x2="219" y2="1032.1" stroke="#111" stroke-width="1.2"/>
<line x1="292.3" y1="1027.6" x2="292.3" y2="1032.1" stroke="#111" stroke-width="1.2"/>
<line x1="365" y1="1027.6" x2="365" y2="1032.1" stroke="#111" stroke-width="1.2"/>
<line x1="438.5" y1="1027.6" x2="438.5" y2="1032.1" stroke="#111" stroke-width="1.2"/>
<rect x="89.00" y="1014.00" width="21.00" height="13.60" fill="#000"/>
<line x1="99.5" y1="1000" x2="99.5" y2="1014" stroke="#111" stroke-width="1.5"/>
<line x1="94.5" y1="1000" x2="104.5" y2="1000" stroke="#111" stroke-width="1.5"/>
<rect x="110.80" y="1019.30" width="19.40" height="8.30" fill="#fff" stroke="#111" stroke-width="1.6"/>
<line x1="120.5" y1="1006.5" x2="120.5" y2="1018.5" stroke="#111" stroke-width="1.5"/>
<line x1="115.5" y1="1006.5" x2="125.5" y2="1006.5" stroke="#111" stroke-width="1.5"/>
<line x1="172.5" y1="1011.5" x2="172.5" y2="1027.6" stroke="#111" stroke-width="1.5"/>
<line x1="167.5" y1="1011.5" x2="177.5" y2="1011.5" stroke="#111" stroke-width="1.5"/>
<line x1="193.5" y1="1008.5" x2="193.5" y2="1027.6" stroke="#111" stroke-width="1.5"/>
<line x1="188.5" y1="1008.5" x2="198.5" y2="1008.5" stroke="#111" stroke-width="1.5"/>
<rect x="234.00" y="896.00" width="22.00" height="131.60" fill="#000"/>
<line x1="245" y1="887.5" x2="245" y2="896" stroke="#111" stroke-width="1.5"/>
<line x1="240" y1="887.5" x2="250" y2="887.5" stroke="#111" stroke-width="1.5"/>
<rect x="256.80" y="954.80" width="18.90" height="72.80" fill="#fff" stroke="#111" stroke-width="1.6"/>
<line x1="266.3" y1="941" x2="266.3" y2="954" stroke="#111" stroke-width="1.5"/>
<line x1="261.3" y1="941" x2="271.3" y2="941" stroke="#111" stroke-width="1.5"/>
<rect x="306.50" y="1017.50" width="22.50" height="10.10" fill="#000"/>
<line x1="317.7" y1="1007.5" x2="317.7" y2="1017.5" stroke="#111" stroke-width="1.5"/>
<line x1="312.7" y1="1007.5" x2="322.7" y2="1007.5" stroke="#111" stroke-width="1.5"/>
<line x1="339" y1="1010" x2="339" y2="1027.6" stroke="#111" stroke-width="1.5"/>
<line x1="334" y1="1010" x2="344" y2="1010" stroke="#111" stroke-width="1.5"/>
<rect x="380.00" y="920.00" width="21.50" height="107.60" fill="#000"/>
<line x1="390.7" y1="889" x2="390.7" y2="920" stroke="#111" stroke-width="1.5"/>
<line x1="385.2" y1="889" x2="396.2" y2="889" stroke="#111" stroke-width="1.5"/>
<rect x="402.30" y="943.30" width="19.40" height="84.30" fill="#fff" stroke="#111" stroke-width="1.6"/>
<line x1="412" y1="915" x2="412" y2="942.5" stroke="#111" stroke-width="1.5"/>
<line x1="406.5" y1="915" x2="417.5" y2="915" stroke="#111" stroke-width="1.5"/>
<text x="266.3" y="932" font-size="10.6" font-family="DejaVu Sans, sans-serif" text-anchor="middle" fill="#000">★</text>
<rect x="123.00" y="882.80" width="8.60" height="8.40" fill="#000"/>
<text x="134" y="892.2" font-size="11" textLength="30.6" lengthAdjust="spacingAndGlyphs" fill="#111">β3WT</text>
<rect x="123.90" y="908.40" width="7.20" height="7.20" fill="#fff" stroke="#111" stroke-width="1.6"/>
<text x="134" y="917.2" font-size="11" textLength="44.6" lengthAdjust="spacingAndGlyphs" fill="#111">β3-Δ744</text>
<text x="110" y="1064" font-size="11.4" font-weight="bold" stroke="#111" stroke-width="0.3" text-anchor="middle" textLength="63" lengthAdjust="spacingAndGlyphs" fill="#111">Not treated</text>
<text x="182.5" y="1064" font-size="11.4" font-weight="bold" stroke="#111" stroke-width="0.3" text-anchor="middle" textLength="19.6" lengthAdjust="spacingAndGlyphs" fill="#111">LPC</text>
<text x="255.4" y="1064" font-size="11.4" font-weight="bold" stroke="#111" stroke-width="0.3" text-anchor="middle" textLength="19.6" lengthAdjust="spacingAndGlyphs" fill="#111">LPC</text>
<text x="329" y="1047.8" font-size="11.4" font-weight="bold" stroke="#111" stroke-width="0.3" text-anchor="middle" textLength="19.6" lengthAdjust="spacingAndGlyphs" fill="#111">LPC</text>
<text x="329" y="1063" font-size="11.4" font-weight="bold" stroke="#111" stroke-width="0.3" text-anchor="middle" fill="#111">+</text>
<text x="329" y="1080" font-size="11.4" font-weight="bold" stroke="#111" stroke-width="0.3" text-anchor="middle" textLength="40" lengthAdjust="spacingAndGlyphs" fill="#111">PF8380</text>
<text x="403.8" y="1064" font-size="11.4" font-weight="bold" stroke="#111" stroke-width="0.3" text-anchor="middle" textLength="20" lengthAdjust="spacingAndGlyphs" fill="#111">LPA</text>
<path d="M74 1079 V1086.3 H218.5 V1079" fill="none" stroke="#000" stroke-width="1.7"/>
<path d="M223.5 1079 V1086.3 H362.5 V1079" fill="none" stroke="#000" stroke-width="1.7"/>
<path d="M370 1079 V1086.3 H440 V1079" fill="none" stroke="#000" stroke-width="1.7"/>
<text x="31" y="1105.8" font-size="12.2" font-weight="bold" stroke="#111" stroke-width="0.3" textLength="32.6" lengthAdjust="spacingAndGlyphs" fill="#111">ATX :</text>
<line x1="144" y1="1101.6" x2="149" y2="1101.6" stroke="#000" stroke-width="1.9"/>
<text x="292.5" y="1104.8" font-size="13.5" font-weight="bold" stroke="#111" stroke-width="0.3" text-anchor="middle" fill="#111">+</text>
<line x1="402.5" y1="1101.6" x2="407.5" y2="1101.6" stroke="#000" stroke-width="1.9"/>
</g>
</svg>
</body></html>
